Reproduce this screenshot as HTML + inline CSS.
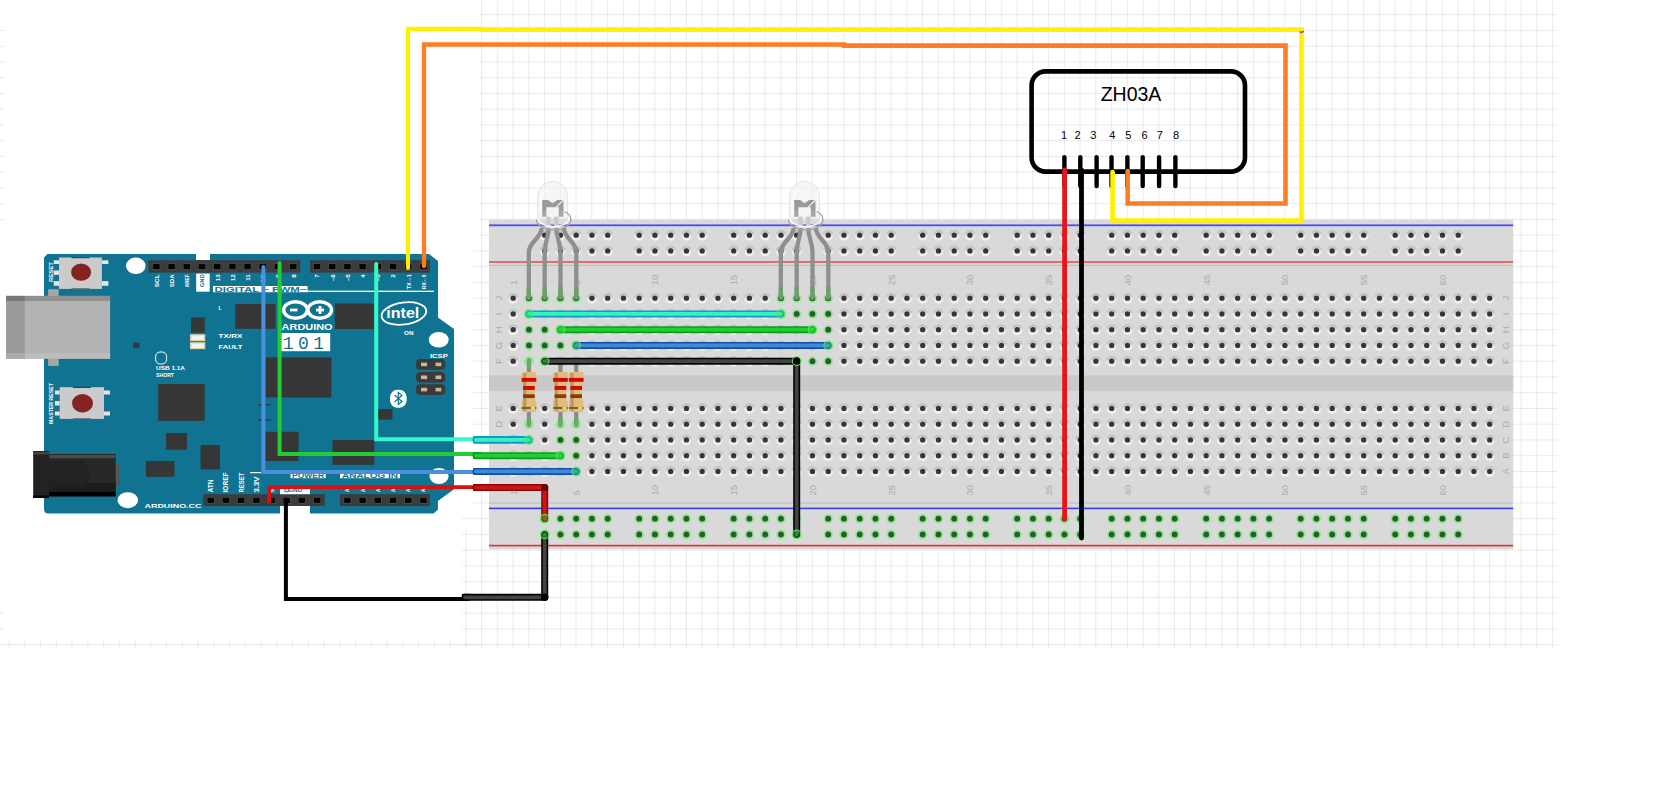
<!DOCTYPE html>
<html><head><meta charset="utf-8"><style>
html,body{margin:0;padding:0;background:#fff;width:1680px;height:804px;overflow:hidden;}
svg{display:block;}
</style></head><body>
<svg width="1680" height="804" viewBox="0 0 1680 804">

<defs>
 <linearGradient id="halo" x1="0" y1="0" x2="0" y2="1">
  <stop offset="0" stop-color="#d0d0d0"/><stop offset="0.35" stop-color="#d4d4d4"/><stop offset="0.55" stop-color="#e8e8e8"/><stop offset="1" stop-color="#f4f4f4"/>
 </linearGradient>
 <g id="hb"><circle r="5.2" fill="url(#halo)"/><path d="M-4.3 -1.2 A4.5 4.5 0 0 1 4.3 -1.2" fill="none" stroke="#c2c2c2" stroke-width="1.5"/><circle r="2.65" fill="#363636"/></g>
 <g id="hg"><circle r="4.7" fill="#8fe68f"/><circle r="2.9" fill="#285c28"/></g>
</defs>

<path d="M481.6 0V648M497.35 0V648M513.1 0V648M528.85 0V648M544.6 0V648M560.35 0V648M576.1 0V648M591.85 0V648M607.6 0V648M623.35 0V648M639.1 0V648M654.85 0V648M670.6 0V648M686.35 0V648M702.1 0V648M717.85 0V648M733.6 0V648M749.35 0V648M765.1 0V648M780.85 0V648M796.6 0V648M812.35 0V648M828.1 0V648M843.85 0V648M859.6 0V648M875.35 0V648M891.1 0V648M906.85 0V648M922.6 0V648M938.35 0V648M954.1 0V648M969.85 0V648M985.6 0V648M1001.35 0V648M1017.1 0V648M1032.85 0V648M1048.6 0V648M1064.35 0V648M1080.1 0V648M1095.85 0V648M1111.6 0V648M1127.35 0V648M1143.1 0V648M1158.85 0V648M1174.6 0V648M1190.35 0V648M1206.1 0V648M1221.85 0V648M1237.6 0V648M1253.35 0V648M1269.1 0V648M1284.85 0V648M1300.6 0V648M1316.35 0V648M1332.1 0V648M1347.85 0V648M1363.6 0V648M1379.35 0V648M1395.1 0V648M1410.85 0V648M1426.6 0V648M1442.35 0V648M1458.1 0V648M1473.85 0V648M1489.6 0V648M1505.35 0V648M1521.1 0V648M1536.85 0V648M1552.6 0V648M465.85 530V648M9.1 641V648M24.85 641V648M40.6 641V648M56.35 641V648M72.1 641V648M87.85 641V648M103.6 641V648M119.35 641V648M135.1 641V648M150.85 641V648M166.6 641V648M182.35 641V648M198.1 641V648M213.85 641V648M229.6 641V648M245.35 641V648M261.1 641V648M276.85 641V648M292.6 641V648M308.35 641V648M324.1 641V648M339.85 641V648M355.6 641V648M371.35 641V648M387.1 641V648M402.85 641V648M418.6 641V648M434.35 641V648M450.1 641V648" stroke="rgba(188,198,214,0.36)" stroke-width="1" fill="none"/>
<path d="M44 257.5 L47.5 254 H196 V260 H210 V254 H429 L438 261 V317.5 L454 329 V489.3 L437.9 501.1 V509.8 L433.5 513.6 H310 V506 H280 V513.6 H48.5 Q44 513.6 44 509 Z" fill="#107391"/>
<ellipse cx="135.8" cy="265.8" rx="9.8" ry="8.3" fill="#fff"/>
<ellipse cx="127.8" cy="500.2" rx="10.3" ry="8" fill="#fff"/>
<ellipse cx="438.7" cy="339.7" rx="10" ry="7.8" fill="#fff"/>
<ellipse cx="439" cy="476" rx="9.6" ry="8" fill="#fff"/>
<rect x="53.7" y="260.3" width="5.299999999999997" height="3.6999999999999886" fill="#e4e4e4"/>
<rect x="53.7" y="270.5" width="5.299999999999997" height="4.399999999999977" fill="#e4e4e4"/>
<rect x="53.7" y="281.1" width="5.299999999999997" height="4.699999999999989" fill="#e4e4e4"/>
<rect x="101.9" y="260.3" width="6.5" height="3.6999999999999886" fill="#e4e4e4"/>
<rect x="101.9" y="281.1" width="6.5" height="4.699999999999989" fill="#e4e4e4"/>
<rect x="59" y="257.5" width="42.900000000000006" height="31.399999999999977" fill="#cbcbcb"/>
<rect x="71.45" y="257.2" width="18" height="1" fill="#0b3f50"/>
<rect x="71.45" y="288.2" width="18" height="1" fill="#6a6a6a"/>
<ellipse cx="81.1" cy="272.2" rx="10" ry="8.6" fill="#852323"/>
<rect x="55" y="390.5" width="4.700000000000003" height="4.0" fill="#e4e4e4"/>
<rect x="55" y="401" width="4.700000000000003" height="4.5" fill="#e4e4e4"/>
<rect x="55" y="411.5" width="4.700000000000003" height="4.0" fill="#e4e4e4"/>
<rect x="104" y="390.5" width="6" height="4.0" fill="#e4e4e4"/>
<rect x="104" y="411.5" width="6" height="4.0" fill="#e4e4e4"/>
<rect x="59.7" y="387.2" width="44.3" height="31.69999999999999" fill="#cbcbcb"/>
<rect x="72.85" y="386.9" width="18" height="1" fill="#0b3f50"/>
<rect x="72.85" y="418.2" width="18" height="1" fill="#6a6a6a"/>
<ellipse cx="82.5" cy="403.2" rx="10.5" ry="9.2" fill="#852323"/>
<rect x="48.1" y="289.2" width="10.6" height="76.7" fill="#a6a6a6"/>
<rect x="6.1" y="295.9" width="104" height="62.8" fill="#b3b3b3"/>
<rect x="6.1" y="295.9" width="104" height="5" fill="#8f8f8f"/>
<rect x="6.1" y="353.2" width="104" height="5.5" fill="#bdbdbd"/>
<rect x="6.1" y="300.9" width="18.7" height="52.3" fill="#9a9a9a"/>
<rect x="6.1" y="295.9" width="18.7" height="5" fill="#787878"/>
<rect x="6.1" y="353.2" width="18.7" height="5.5" fill="#a9a9a9"/>
<rect x="115.7" y="464.4" width="4.3" height="20.4" fill="#555"/>
<rect x="49.1" y="454" width="66.6" height="42.4" fill="#272727"/>
<rect x="49.1" y="455" width="66.6" height="3.2" fill="#4a4a4a"/>
<rect x="49.1" y="483" width="66.6" height="8.8" fill="#1d1d1d"/>
<rect x="49.1" y="491.8" width="66.6" height="4.6" fill="#000"/>
<path d="M49.1 461 H83 Q96 474 83 487 H49.1 Z" fill="#222"/>
<rect x="33.2" y="451" width="15.9" height="47" fill="#222"/>
<rect x="33.2" y="452" width="15.9" height="2.5" fill="#444"/>
<rect x="33.2" y="495.5" width="15.9" height="2.5" fill="#000"/>
<rect x="235.2" y="304" width="40.4" height="24.8" fill="#363636"/>
<rect x="334.8" y="303.5" width="39.0" height="25.5" fill="#363636"/>
<rect x="191" y="317.4" width="13.8" height="15.2" fill="#363636"/>
<rect x="265.7" y="357.4" width="65.7" height="40.1" fill="#363636"/>
<rect x="158.3" y="384" width="46.4" height="36.8" fill="#363636"/>
<rect x="166" y="433" width="21" height="16.7" fill="#363636"/>
<rect x="200.6" y="445" width="19.3" height="24.4" fill="#363636"/>
<rect x="146" y="461" width="28.5" height="15.8" fill="#363636"/>
<rect x="264.8" y="431.8" width="33.7" height="29.2" fill="#363636"/>
<rect x="332.4" y="440" width="41.9" height="24.8" fill="#363636"/>
<rect x="378" y="409" width="14.4" height="10.6" fill="#363636"/>
<rect x="133.2" y="342.7" width="6.1" height="5.3" fill="#363636"/>
<rect x="258" y="404.3" width="13" height="1" fill="#2a2a2a"/><rect x="258" y="419.5" width="13" height="1" fill="#2a2a2a"/>
<rect x="190" y="334.2" width="15.3" height="7" fill="#d8d0a8"/>
<rect x="191.5" y="335.4" width="12.3" height="4.6" fill="#f2f2ee"/>
<rect x="190" y="342.2" width="15.3" height="7" fill="#d8d0a8"/>
<rect x="191.5" y="343.4" width="12.3" height="4.6" fill="#f2f2ee"/>
<rect x="148.4" y="260.2" width="151.9" height="12.4" fill="#3c3c3c"/>
<rect x="152.4" y="263.2" width="8" height="7" fill="#4a4a4a"/>
<rect x="153.2" y="264.1" width="6.4" height="5" fill="#000"/>
<rect x="167.6" y="263.2" width="8" height="7" fill="#4a4a4a"/>
<rect x="168.4" y="264.1" width="6.4" height="5" fill="#000"/>
<rect x="182.8" y="263.2" width="8" height="7" fill="#4a4a4a"/>
<rect x="183.6" y="264.1" width="6.4" height="5" fill="#000"/>
<rect x="198.0" y="263.2" width="8" height="7" fill="#4a4a4a"/>
<rect x="198.8" y="264.1" width="6.4" height="5" fill="#000"/>
<rect x="213.2" y="263.2" width="8" height="7" fill="#4a4a4a"/>
<rect x="214.0" y="264.1" width="6.4" height="5" fill="#000"/>
<rect x="228.4" y="263.2" width="8" height="7" fill="#4a4a4a"/>
<rect x="229.2" y="264.1" width="6.4" height="5" fill="#000"/>
<rect x="243.6" y="263.2" width="8" height="7" fill="#4a4a4a"/>
<rect x="244.4" y="264.1" width="6.4" height="5" fill="#000"/>
<rect x="258.8" y="263.2" width="8" height="7" fill="#4a4a4a"/>
<rect x="259.6" y="264.1" width="6.4" height="5" fill="#000"/>
<rect x="274.0" y="263.2" width="8" height="7" fill="#4a4a4a"/>
<rect x="274.8" y="264.1" width="6.4" height="5" fill="#000"/>
<rect x="289.2" y="263.2" width="8" height="7" fill="#4a4a4a"/>
<rect x="290.0" y="264.1" width="6.4" height="5" fill="#000"/>
<rect x="310" y="260.2" width="119.9" height="12.4" fill="#3c3c3c"/>
<rect x="313.0" y="263.2" width="8" height="7" fill="#4a4a4a"/>
<rect x="313.8" y="264.1" width="6.4" height="5" fill="#000"/>
<rect x="328.2" y="263.2" width="8" height="7" fill="#4a4a4a"/>
<rect x="329.0" y="264.1" width="6.4" height="5" fill="#000"/>
<rect x="343.4" y="263.2" width="8" height="7" fill="#4a4a4a"/>
<rect x="344.2" y="264.1" width="6.4" height="5" fill="#000"/>
<rect x="358.6" y="263.2" width="8" height="7" fill="#4a4a4a"/>
<rect x="359.4" y="264.1" width="6.4" height="5" fill="#000"/>
<rect x="373.8" y="263.2" width="8" height="7" fill="#4a4a4a"/>
<rect x="374.6" y="264.1" width="6.4" height="5" fill="#000"/>
<rect x="389.0" y="263.2" width="8" height="7" fill="#4a4a4a"/>
<rect x="389.8" y="264.1" width="6.4" height="5" fill="#000"/>
<rect x="404.2" y="263.2" width="8" height="7" fill="#4a4a4a"/>
<rect x="405.0" y="264.1" width="6.4" height="5" fill="#000"/>
<rect x="419.4" y="263.2" width="8" height="7" fill="#4a4a4a"/>
<rect x="420.2" y="264.1" width="6.4" height="5" fill="#000"/>
<rect x="203.2" y="494.2" width="121.5" height="11.8" fill="#3c3c3c"/>
<rect x="206.7" y="496.9" width="8" height="7" fill="#4a4a4a"/>
<rect x="207.5" y="497.8" width="6.4" height="5" fill="#000"/>
<rect x="221.9" y="496.9" width="8" height="7" fill="#4a4a4a"/>
<rect x="222.7" y="497.8" width="6.4" height="5" fill="#000"/>
<rect x="237.1" y="496.9" width="8" height="7" fill="#4a4a4a"/>
<rect x="237.9" y="497.8" width="6.4" height="5" fill="#000"/>
<rect x="252.3" y="496.9" width="8" height="7" fill="#4a4a4a"/>
<rect x="253.1" y="497.8" width="6.4" height="5" fill="#000"/>
<rect x="267.5" y="496.9" width="8" height="7" fill="#4a4a4a"/>
<rect x="268.3" y="497.8" width="6.4" height="5" fill="#000"/>
<rect x="282.7" y="496.9" width="8" height="7" fill="#4a4a4a"/>
<rect x="283.5" y="497.8" width="6.4" height="5" fill="#000"/>
<rect x="297.9" y="496.9" width="8" height="7" fill="#4a4a4a"/>
<rect x="298.7" y="497.8" width="6.4" height="5" fill="#000"/>
<rect x="313.1" y="496.9" width="8" height="7" fill="#4a4a4a"/>
<rect x="313.9" y="497.8" width="6.4" height="5" fill="#000"/>
<rect x="340" y="494.2" width="89.9" height="11.8" fill="#3c3c3c"/>
<rect x="343.4" y="496.9" width="8" height="7" fill="#4a4a4a"/>
<rect x="344.2" y="497.8" width="6.4" height="5" fill="#000"/>
<rect x="358.6" y="496.9" width="8" height="7" fill="#4a4a4a"/>
<rect x="359.4" y="497.8" width="6.4" height="5" fill="#000"/>
<rect x="373.8" y="496.9" width="8" height="7" fill="#4a4a4a"/>
<rect x="374.6" y="497.8" width="6.4" height="5" fill="#000"/>
<rect x="389.0" y="496.9" width="8" height="7" fill="#4a4a4a"/>
<rect x="389.8" y="497.8" width="6.4" height="5" fill="#000"/>
<rect x="404.2" y="496.9" width="8" height="7" fill="#4a4a4a"/>
<rect x="405.0" y="497.8" width="6.4" height="5" fill="#000"/>
<rect x="419.4" y="496.9" width="8" height="7" fill="#4a4a4a"/>
<rect x="420.2" y="497.8" width="6.4" height="5" fill="#000"/>
<rect x="416.1" y="359" width="29.1" height="10.7" rx="4" fill="#3a3a3a"/>
<rect x="421" y="362.6" width="6.1" height="3.6" fill="#c9b78e"/>
<rect x="435.5" y="362.6" width="5.8" height="3.6" fill="#c9b78e"/>
<rect x="416.1" y="371.9" width="29.1" height="10.7" rx="4" fill="#3a3a3a"/>
<rect x="421" y="375.5" width="6.1" height="3.6" fill="#c9b78e"/>
<rect x="435.5" y="375.5" width="5.8" height="3.6" fill="#c9b78e"/>
<rect x="416.1" y="384.2" width="29.1" height="10.7" rx="4" fill="#3a3a3a"/>
<rect x="421" y="387.8" width="6.1" height="3.6" fill="#c9b78e"/>
<rect x="435.5" y="387.8" width="5.8" height="3.6" fill="#c9b78e"/>
<rect x="196.2" y="273.6" width="13.5" height="18.1" fill="#fff"/>
<rect x="213" y="286" width="94.6" height="6.2" fill="#fff"/>
<rect x="307" y="290.6" width="127" height="1.4" fill="#e8f2f5"/>
<rect x="280" y="488.7" width="30" height="5.5" fill="#fff"/>
<rect x="290.5" y="473" width="35.2" height="5.2" fill="#fff"/>
<rect x="340" y="473" width="60" height="5.2" fill="#fff"/>
<rect x="250" y="472" width="11" height="1.2" fill="#fff"/>
<g fill="none" stroke="#fff" stroke-width="3.4"><ellipse cx="295.5" cy="310" rx="11.8" ry="8.3"/><ellipse cx="319.7" cy="310" rx="11.8" ry="8.3"/></g>
<rect x="290" y="308.6" width="7.5" height="2.8" fill="#fff"/>
<rect x="316" y="308.6" width="8" height="2.8" fill="#fff"/><rect x="318.6" y="306" width="2.8" height="8" fill="#fff"/>
<rect x="281.1" y="333" width="49.1" height="18.2" fill="#fff"/>
<text x="305.6" y="348.6" text-anchor="middle" font-family='"Liberation Mono", monospace' font-size="18" letter-spacing="4.5" fill="#107391">101</text>
<text x="281.6" y="330.2" font-family='"Liberation Sans", sans-serif' font-weight="bold" font-size="9.2" textLength="51" lengthAdjust="spacingAndGlyphs" fill="#fff">ARDUINO</text>
<ellipse cx="403.9" cy="313.5" rx="22.5" ry="11" transform="rotate(-8 403.9 313.5)" fill="none" stroke="#fff" stroke-width="1.8"/>
<text x="402.8" y="317.8" text-anchor="middle" font-family='"Liberation Sans", sans-serif' font-weight="bold" font-size="14.5" textLength="33" lengthAdjust="spacingAndGlyphs" fill="#fff">intel</text>
<rect x="390" y="389.8" width="16.7" height="17.9" rx="7.5" fill="#fff"/>
<path d="M394.5 395 L402 401.5 L398.3 404.5 V392.5 L402 395.5 L394.5 402" fill="none" stroke="#107391" stroke-width="1.2"/>
<g font-family='"Liberation Sans", sans-serif' font-weight="bold"><text transform="translate(158.70000000000002 274.3) rotate(-90)" font-size="6.2" fill="#fff" text-anchor="end" textLength="13" lengthAdjust="spacingAndGlyphs">SCL</text><text transform="translate(173.9 274.3) rotate(-90)" font-size="6.2" fill="#fff" text-anchor="end" textLength="13" lengthAdjust="spacingAndGlyphs">SDA</text><text transform="translate(189.10000000000002 274.3) rotate(-90)" font-size="6.2" fill="#fff" text-anchor="end" textLength="13" lengthAdjust="spacingAndGlyphs">AREF</text><text transform="translate(204.3 274.3) rotate(-90)" font-size="6.2" fill="#107391" text-anchor="end" textLength="13" lengthAdjust="spacingAndGlyphs">GND</text><text transform="translate(219.5 274.3) rotate(-90)" font-size="6.2" fill="#fff" text-anchor="end">13</text><text transform="translate(234.70000000000002 274.3) rotate(-90)" font-size="6.2" fill="#fff" text-anchor="end">12</text><text transform="translate(249.9 274.3) rotate(-90)" font-size="6.2" fill="#fff" text-anchor="end">11</text><text transform="translate(265.1 274.3) rotate(-90)" font-size="6.2" fill="#fff" text-anchor="end" textLength="13" lengthAdjust="spacingAndGlyphs">~10</text><text transform="translate(280.3 274.3) rotate(-90)" font-size="6.2" fill="#fff" text-anchor="end">~9</text><text transform="translate(295.5 274.3) rotate(-90)" font-size="6.2" fill="#fff" text-anchor="end">8</text><text transform="translate(319.3 274.3) rotate(-90)" font-size="6.2" fill="#fff" text-anchor="end">7</text><text transform="translate(334.5 274.3) rotate(-90)" font-size="6.2" fill="#fff" text-anchor="end">~6</text><text transform="translate(349.7 274.3) rotate(-90)" font-size="6.2" fill="#fff" text-anchor="end">~5</text><text transform="translate(364.90000000000003 274.3) rotate(-90)" font-size="6.2" fill="#fff" text-anchor="end">4</text><text transform="translate(380.1 274.3) rotate(-90)" font-size="6.2" fill="#fff" text-anchor="end">~3</text><text transform="translate(395.3 274.3) rotate(-90)" font-size="6.2" fill="#fff" text-anchor="end">2</text><text transform="translate(410.5 274.3) rotate(-90)" font-size="6.2" fill="#fff" text-anchor="end" textLength="15" lengthAdjust="spacingAndGlyphs">TX→1</text><text transform="translate(425.7 274.3) rotate(-90)" font-size="6.2" fill="#fff" text-anchor="end" textLength="15" lengthAdjust="spacingAndGlyphs">RX←0</text><text transform="translate(213.2 492.5) rotate(-90)" font-size="7.5" fill="#fff" text-anchor="start" textLength="13" lengthAdjust="spacingAndGlyphs">ATN</text><text transform="translate(228.39999999999998 492.5) rotate(-90)" font-size="7.5" fill="#fff" text-anchor="start" textLength="20" lengthAdjust="spacingAndGlyphs">IOREF</text><text transform="translate(243.6 492.5) rotate(-90)" font-size="7.5" fill="#fff" text-anchor="start" textLength="20" lengthAdjust="spacingAndGlyphs">RESET</text><text transform="translate(258.79999999999995 492.5) rotate(-90)" font-size="7.5" fill="#fff" text-anchor="start" textLength="16" lengthAdjust="spacingAndGlyphs">3.3V</text><text transform="translate(274.0 492.5) rotate(-90)" font-size="6" fill="#fff" text-anchor="start">5</text><text transform="translate(289.2 492.5) rotate(-90)" font-size="7.5" fill="#107391" text-anchor="start" textLength="13" lengthAdjust="spacingAndGlyphs">GND</text><text transform="translate(304.4 492.5) rotate(-90)" font-size="6" fill="#fff" text-anchor="start">V</text><text transform="translate(349.4 492) rotate(-90)" font-size="5" fill="#fff" text-anchor="start" textLength="6" lengthAdjust="spacingAndGlyphs">A0</text><text transform="translate(364.59999999999997 492) rotate(-90)" font-size="5" fill="#fff" text-anchor="start" textLength="6" lengthAdjust="spacingAndGlyphs">A1</text><text transform="translate(379.79999999999995 492) rotate(-90)" font-size="5" fill="#fff" text-anchor="start" textLength="6" lengthAdjust="spacingAndGlyphs">A2</text><text transform="translate(395.0 492) rotate(-90)" font-size="5" fill="#fff" text-anchor="start" textLength="6" lengthAdjust="spacingAndGlyphs">A3</text><text transform="translate(410.2 492) rotate(-90)" font-size="5" fill="#fff" text-anchor="start" textLength="6" lengthAdjust="spacingAndGlyphs">A4</text><text transform="translate(425.4 492) rotate(-90)" font-size="5" fill="#fff" text-anchor="start" textLength="6" lengthAdjust="spacingAndGlyphs">A5</text></g>
<g font-family='"Liberation Sans", sans-serif' font-weight="bold"><text x="214.5" y="291.6" font-size="7" fill="#107391" text-anchor="start" textLength="92" lengthAdjust="spacingAndGlyphs">DIGITAL ~ PWM~</text><text x="292" y="478" font-size="6.5" fill="#107391" text-anchor="start" textLength="32" lengthAdjust="spacingAndGlyphs">POWER</text><text x="342" y="478" font-size="6.5" fill="#107391" text-anchor="start" textLength="56" lengthAdjust="spacingAndGlyphs">ANALOG IN</text><text x="288" y="492.3" font-size="4.5" fill="#107391" text-anchor="start" textLength="14.5" lengthAdjust="spacingAndGlyphs">GND</text><text x="144.5" y="507.8" font-size="6" fill="#fff" text-anchor="start" textLength="57" lengthAdjust="spacingAndGlyphs">ARDUINO.CC</text><text x="404" y="335.2" font-size="5" fill="#fff" text-anchor="start" textLength="9.5" lengthAdjust="spacingAndGlyphs">ON</text><text x="430" y="357.5" font-size="6" fill="#fff" text-anchor="start" textLength="17.8" lengthAdjust="spacingAndGlyphs">ICSP</text><text x="218.5" y="338" font-size="5.5" fill="#fff" text-anchor="start" textLength="24" lengthAdjust="spacingAndGlyphs">TX/RX</text><text x="218.5" y="348.5" font-size="5.5" fill="#fff" text-anchor="start" textLength="24" lengthAdjust="spacingAndGlyphs">FAULT</text><text x="218.5" y="310" font-size="5" fill="#fff" text-anchor="start">L</text><text x="156" y="370" font-size="5" fill="#fff" text-anchor="start" textLength="29" lengthAdjust="spacingAndGlyphs">USB 1.1A</text><text x="156" y="376.5" font-size="5" fill="#fff" text-anchor="start" textLength="18" lengthAdjust="spacingAndGlyphs">SHORT</text></g>
<rect x="155.6" y="352" width="11" height="12" rx="4.5" fill="none" stroke="#fff" stroke-width="1"/>
<g font-family='"Liberation Sans", sans-serif' font-weight="bold" fill="#fff"><text transform="translate(52.5 282) rotate(-90)" font-size="5.5" textLength="20" lengthAdjust="spacingAndGlyphs">RESET</text><text transform="translate(52.5 424) rotate(-90)" font-size="5.5" textLength="41" lengthAdjust="spacingAndGlyphs">MASTER RESET</text></g>
<path d="M480 14.7H1558M480 30.45H1558M480 46.2H1558M480 61.95H1558M480 77.7H1558M480 93.45H1558M480 109.2H1558M480 124.95H1558M480 140.7H1558M480 156.45H1558M480 172.2H1558M480 187.95H1558M480 203.7H1558M480 219.45H1558M480 235.2H1558M473 250.95H1558M473 266.7H1558M473 282.45H1558M473 298.2H1558M473 313.95H1558M473 329.7H1558M473 345.45H1558M473 361.2H1558M473 376.95H1558M473 392.7H1558M473 408.45H1558M473 424.2H1558M473 439.95H1558M473 455.7H1558M473 471.45H1558M473 487.2H1558M473 502.95H1558M462 518.7H1558M462 534.45H1558M462 550.2H1558M462 565.95H1558M462 581.7H1558M462 597.45H1558M462 613.2H1558M462 628.95H1558M462 644.7H1558M0 644.7H480M0 30.45H4M0 46.2H4M0 61.95H4M0 77.7H4M0 93.45H4M0 109.2H4M0 124.95H4M0 140.7H4M0 156.45H4M0 172.2H4M0 187.95H4M0 203.7H4M0 219.45H4M0 613.2H4M0 628.95H4" stroke="rgba(188,198,214,0.36)" stroke-width="1" fill="none"/>
<rect x="489" y="219.5" width="1024.2" height="330" fill="#d9d9d9"/>
<rect x="489" y="224.4" width="1024.2" height="1.8" fill="#4d4df0"/>
<rect x="489" y="261" width="1024.2" height="2" fill="#e86a6a"/>
<rect x="489" y="264.9" width="1024.2" height="1.1" fill="#bdbdbd"/>
<rect x="489" y="375.3" width="1024.2" height="15.6" fill="#cbc9c7"/>
<rect x="489" y="502.4" width="1024.2" height="1.1" fill="#bdbdbd"/>
<rect x="489" y="507.6" width="1024.2" height="1.6" fill="#3c3cee"/>
<rect x="489" y="544.8" width="1024.2" height="1.6" fill="#ee2a2a"/>
<use href="#hb" x="544.7" y="235.2"/>
<use href="#hb" x="544.7" y="250.95"/>
<use href="#hg" x="544.7" y="518.7"/>
<use href="#hg" x="544.7" y="534.45"/>
<use href="#hb" x="560.45" y="235.2"/>
<use href="#hb" x="560.45" y="250.95"/>
<use href="#hg" x="560.45" y="518.7"/>
<use href="#hg" x="560.45" y="534.45"/>
<use href="#hb" x="576.2" y="235.2"/>
<use href="#hb" x="576.2" y="250.95"/>
<use href="#hg" x="576.2" y="518.7"/>
<use href="#hg" x="576.2" y="534.45"/>
<use href="#hb" x="591.95" y="235.2"/>
<use href="#hb" x="591.95" y="250.95"/>
<use href="#hg" x="591.95" y="518.7"/>
<use href="#hg" x="591.95" y="534.45"/>
<use href="#hb" x="607.7" y="235.2"/>
<use href="#hb" x="607.7" y="250.95"/>
<use href="#hg" x="607.7" y="518.7"/>
<use href="#hg" x="607.7" y="534.45"/>
<use href="#hb" x="639.2" y="235.2"/>
<use href="#hb" x="639.2" y="250.95"/>
<use href="#hg" x="639.2" y="518.7"/>
<use href="#hg" x="639.2" y="534.45"/>
<use href="#hb" x="654.95" y="235.2"/>
<use href="#hb" x="654.95" y="250.95"/>
<use href="#hg" x="654.95" y="518.7"/>
<use href="#hg" x="654.95" y="534.45"/>
<use href="#hb" x="670.7" y="235.2"/>
<use href="#hb" x="670.7" y="250.95"/>
<use href="#hg" x="670.7" y="518.7"/>
<use href="#hg" x="670.7" y="534.45"/>
<use href="#hb" x="686.45" y="235.2"/>
<use href="#hb" x="686.45" y="250.95"/>
<use href="#hg" x="686.45" y="518.7"/>
<use href="#hg" x="686.45" y="534.45"/>
<use href="#hb" x="702.2" y="235.2"/>
<use href="#hb" x="702.2" y="250.95"/>
<use href="#hg" x="702.2" y="518.7"/>
<use href="#hg" x="702.2" y="534.45"/>
<use href="#hb" x="733.7" y="235.2"/>
<use href="#hb" x="733.7" y="250.95"/>
<use href="#hg" x="733.7" y="518.7"/>
<use href="#hg" x="733.7" y="534.45"/>
<use href="#hb" x="749.45" y="235.2"/>
<use href="#hb" x="749.45" y="250.95"/>
<use href="#hg" x="749.45" y="518.7"/>
<use href="#hg" x="749.45" y="534.45"/>
<use href="#hb" x="765.2" y="235.2"/>
<use href="#hb" x="765.2" y="250.95"/>
<use href="#hg" x="765.2" y="518.7"/>
<use href="#hg" x="765.2" y="534.45"/>
<use href="#hb" x="780.95" y="235.2"/>
<use href="#hb" x="780.95" y="250.95"/>
<use href="#hg" x="780.95" y="518.7"/>
<use href="#hg" x="780.95" y="534.45"/>
<use href="#hb" x="796.7" y="235.2"/>
<use href="#hb" x="796.7" y="250.95"/>
<use href="#hg" x="796.7" y="518.7"/>
<use href="#hg" x="796.7" y="534.45"/>
<use href="#hb" x="828.2" y="235.2"/>
<use href="#hb" x="828.2" y="250.95"/>
<use href="#hg" x="828.2" y="518.7"/>
<use href="#hg" x="828.2" y="534.45"/>
<use href="#hb" x="843.95" y="235.2"/>
<use href="#hb" x="843.95" y="250.95"/>
<use href="#hg" x="843.95" y="518.7"/>
<use href="#hg" x="843.95" y="534.45"/>
<use href="#hb" x="859.7" y="235.2"/>
<use href="#hb" x="859.7" y="250.95"/>
<use href="#hg" x="859.7" y="518.7"/>
<use href="#hg" x="859.7" y="534.45"/>
<use href="#hb" x="875.45" y="235.2"/>
<use href="#hb" x="875.45" y="250.95"/>
<use href="#hg" x="875.45" y="518.7"/>
<use href="#hg" x="875.45" y="534.45"/>
<use href="#hb" x="891.2" y="235.2"/>
<use href="#hb" x="891.2" y="250.95"/>
<use href="#hg" x="891.2" y="518.7"/>
<use href="#hg" x="891.2" y="534.45"/>
<use href="#hb" x="922.7" y="235.2"/>
<use href="#hb" x="922.7" y="250.95"/>
<use href="#hg" x="922.7" y="518.7"/>
<use href="#hg" x="922.7" y="534.45"/>
<use href="#hb" x="938.45" y="235.2"/>
<use href="#hb" x="938.45" y="250.95"/>
<use href="#hg" x="938.45" y="518.7"/>
<use href="#hg" x="938.45" y="534.45"/>
<use href="#hb" x="954.2" y="235.2"/>
<use href="#hb" x="954.2" y="250.95"/>
<use href="#hg" x="954.2" y="518.7"/>
<use href="#hg" x="954.2" y="534.45"/>
<use href="#hb" x="969.95" y="235.2"/>
<use href="#hb" x="969.95" y="250.95"/>
<use href="#hg" x="969.95" y="518.7"/>
<use href="#hg" x="969.95" y="534.45"/>
<use href="#hb" x="985.7" y="235.2"/>
<use href="#hb" x="985.7" y="250.95"/>
<use href="#hg" x="985.7" y="518.7"/>
<use href="#hg" x="985.7" y="534.45"/>
<use href="#hb" x="1017.2" y="235.2"/>
<use href="#hb" x="1017.2" y="250.95"/>
<use href="#hg" x="1017.2" y="518.7"/>
<use href="#hg" x="1017.2" y="534.45"/>
<use href="#hb" x="1032.95" y="235.2"/>
<use href="#hb" x="1032.95" y="250.95"/>
<use href="#hg" x="1032.95" y="518.7"/>
<use href="#hg" x="1032.95" y="534.45"/>
<use href="#hb" x="1048.7" y="235.2"/>
<use href="#hb" x="1048.7" y="250.95"/>
<use href="#hg" x="1048.7" y="518.7"/>
<use href="#hg" x="1048.7" y="534.45"/>
<use href="#hb" x="1064.45" y="235.2"/>
<use href="#hb" x="1064.45" y="250.95"/>
<use href="#hg" x="1064.45" y="518.7"/>
<use href="#hg" x="1064.45" y="534.45"/>
<use href="#hb" x="1080.2" y="235.2"/>
<use href="#hb" x="1080.2" y="250.95"/>
<use href="#hg" x="1080.2" y="518.7"/>
<use href="#hg" x="1080.2" y="534.45"/>
<use href="#hb" x="1111.7" y="235.2"/>
<use href="#hb" x="1111.7" y="250.95"/>
<use href="#hg" x="1111.7" y="518.7"/>
<use href="#hg" x="1111.7" y="534.45"/>
<use href="#hb" x="1127.45" y="235.2"/>
<use href="#hb" x="1127.45" y="250.95"/>
<use href="#hg" x="1127.45" y="518.7"/>
<use href="#hg" x="1127.45" y="534.45"/>
<use href="#hb" x="1143.2" y="235.2"/>
<use href="#hb" x="1143.2" y="250.95"/>
<use href="#hg" x="1143.2" y="518.7"/>
<use href="#hg" x="1143.2" y="534.45"/>
<use href="#hb" x="1158.95" y="235.2"/>
<use href="#hb" x="1158.95" y="250.95"/>
<use href="#hg" x="1158.95" y="518.7"/>
<use href="#hg" x="1158.95" y="534.45"/>
<use href="#hb" x="1174.7" y="235.2"/>
<use href="#hb" x="1174.7" y="250.95"/>
<use href="#hg" x="1174.7" y="518.7"/>
<use href="#hg" x="1174.7" y="534.45"/>
<use href="#hb" x="1206.2" y="235.2"/>
<use href="#hb" x="1206.2" y="250.95"/>
<use href="#hg" x="1206.2" y="518.7"/>
<use href="#hg" x="1206.2" y="534.45"/>
<use href="#hb" x="1221.95" y="235.2"/>
<use href="#hb" x="1221.95" y="250.95"/>
<use href="#hg" x="1221.95" y="518.7"/>
<use href="#hg" x="1221.95" y="534.45"/>
<use href="#hb" x="1237.7" y="235.2"/>
<use href="#hb" x="1237.7" y="250.95"/>
<use href="#hg" x="1237.7" y="518.7"/>
<use href="#hg" x="1237.7" y="534.45"/>
<use href="#hb" x="1253.45" y="235.2"/>
<use href="#hb" x="1253.45" y="250.95"/>
<use href="#hg" x="1253.45" y="518.7"/>
<use href="#hg" x="1253.45" y="534.45"/>
<use href="#hb" x="1269.2" y="235.2"/>
<use href="#hb" x="1269.2" y="250.95"/>
<use href="#hg" x="1269.2" y="518.7"/>
<use href="#hg" x="1269.2" y="534.45"/>
<use href="#hb" x="1300.7" y="235.2"/>
<use href="#hb" x="1300.7" y="250.95"/>
<use href="#hg" x="1300.7" y="518.7"/>
<use href="#hg" x="1300.7" y="534.45"/>
<use href="#hb" x="1316.45" y="235.2"/>
<use href="#hb" x="1316.45" y="250.95"/>
<use href="#hg" x="1316.45" y="518.7"/>
<use href="#hg" x="1316.45" y="534.45"/>
<use href="#hb" x="1332.2" y="235.2"/>
<use href="#hb" x="1332.2" y="250.95"/>
<use href="#hg" x="1332.2" y="518.7"/>
<use href="#hg" x="1332.2" y="534.45"/>
<use href="#hb" x="1347.95" y="235.2"/>
<use href="#hb" x="1347.95" y="250.95"/>
<use href="#hg" x="1347.95" y="518.7"/>
<use href="#hg" x="1347.95" y="534.45"/>
<use href="#hb" x="1363.7" y="235.2"/>
<use href="#hb" x="1363.7" y="250.95"/>
<use href="#hg" x="1363.7" y="518.7"/>
<use href="#hg" x="1363.7" y="534.45"/>
<use href="#hb" x="1395.2" y="235.2"/>
<use href="#hb" x="1395.2" y="250.95"/>
<use href="#hg" x="1395.2" y="518.7"/>
<use href="#hg" x="1395.2" y="534.45"/>
<use href="#hb" x="1410.95" y="235.2"/>
<use href="#hb" x="1410.95" y="250.95"/>
<use href="#hg" x="1410.95" y="518.7"/>
<use href="#hg" x="1410.95" y="534.45"/>
<use href="#hb" x="1426.7" y="235.2"/>
<use href="#hb" x="1426.7" y="250.95"/>
<use href="#hg" x="1426.7" y="518.7"/>
<use href="#hg" x="1426.7" y="534.45"/>
<use href="#hb" x="1442.45" y="235.2"/>
<use href="#hb" x="1442.45" y="250.95"/>
<use href="#hg" x="1442.45" y="518.7"/>
<use href="#hg" x="1442.45" y="534.45"/>
<use href="#hb" x="1458.2" y="235.2"/>
<use href="#hb" x="1458.2" y="250.95"/>
<use href="#hg" x="1458.2" y="518.7"/>
<use href="#hg" x="1458.2" y="534.45"/>
<use href="#hb" x="513.2" y="298.2"/>
<use href="#hb" x="513.2" y="313.95"/>
<use href="#hb" x="513.2" y="329.7"/>
<use href="#hb" x="513.2" y="345.45"/>
<use href="#hb" x="513.2" y="361.2"/>
<use href="#hb" x="513.2" y="408.45"/>
<use href="#hb" x="513.2" y="424.2"/>
<use href="#hb" x="513.2" y="439.95"/>
<use href="#hb" x="513.2" y="455.7"/>
<use href="#hb" x="513.2" y="471.45"/>
<use href="#hg" x="528.95" y="298.2"/>
<use href="#hg" x="528.95" y="313.95"/>
<use href="#hg" x="528.95" y="329.7"/>
<use href="#hg" x="528.95" y="345.45"/>
<use href="#hg" x="528.95" y="361.2"/>
<use href="#hg" x="528.95" y="408.45"/>
<use href="#hg" x="528.95" y="424.2"/>
<use href="#hg" x="528.95" y="439.95"/>
<use href="#hg" x="528.95" y="455.7"/>
<use href="#hg" x="528.95" y="471.45"/>
<use href="#hg" x="544.7" y="298.2"/>
<use href="#hg" x="544.7" y="313.95"/>
<use href="#hg" x="544.7" y="329.7"/>
<use href="#hg" x="544.7" y="345.45"/>
<use href="#hg" x="544.7" y="361.2"/>
<use href="#hb" x="544.7" y="408.45"/>
<use href="#hb" x="544.7" y="424.2"/>
<use href="#hb" x="544.7" y="439.95"/>
<use href="#hb" x="544.7" y="455.7"/>
<use href="#hb" x="544.7" y="471.45"/>
<use href="#hg" x="560.45" y="298.2"/>
<use href="#hg" x="560.45" y="313.95"/>
<use href="#hg" x="560.45" y="329.7"/>
<use href="#hg" x="560.45" y="345.45"/>
<use href="#hg" x="560.45" y="361.2"/>
<use href="#hg" x="560.45" y="408.45"/>
<use href="#hg" x="560.45" y="424.2"/>
<use href="#hg" x="560.45" y="439.95"/>
<use href="#hg" x="560.45" y="455.7"/>
<use href="#hg" x="560.45" y="471.45"/>
<use href="#hg" x="576.2" y="298.2"/>
<use href="#hg" x="576.2" y="313.95"/>
<use href="#hg" x="576.2" y="329.7"/>
<use href="#hg" x="576.2" y="345.45"/>
<use href="#hg" x="576.2" y="361.2"/>
<use href="#hg" x="576.2" y="408.45"/>
<use href="#hg" x="576.2" y="424.2"/>
<use href="#hg" x="576.2" y="439.95"/>
<use href="#hg" x="576.2" y="455.7"/>
<use href="#hg" x="576.2" y="471.45"/>
<use href="#hb" x="591.95" y="298.2"/>
<use href="#hb" x="591.95" y="313.95"/>
<use href="#hb" x="591.95" y="329.7"/>
<use href="#hb" x="591.95" y="345.45"/>
<use href="#hb" x="591.95" y="361.2"/>
<use href="#hb" x="591.95" y="408.45"/>
<use href="#hb" x="591.95" y="424.2"/>
<use href="#hb" x="591.95" y="439.95"/>
<use href="#hb" x="591.95" y="455.7"/>
<use href="#hb" x="591.95" y="471.45"/>
<use href="#hb" x="607.7" y="298.2"/>
<use href="#hb" x="607.7" y="313.95"/>
<use href="#hb" x="607.7" y="329.7"/>
<use href="#hb" x="607.7" y="345.45"/>
<use href="#hb" x="607.7" y="361.2"/>
<use href="#hb" x="607.7" y="408.45"/>
<use href="#hb" x="607.7" y="424.2"/>
<use href="#hb" x="607.7" y="439.95"/>
<use href="#hb" x="607.7" y="455.7"/>
<use href="#hb" x="607.7" y="471.45"/>
<use href="#hb" x="623.45" y="298.2"/>
<use href="#hb" x="623.45" y="313.95"/>
<use href="#hb" x="623.45" y="329.7"/>
<use href="#hb" x="623.45" y="345.45"/>
<use href="#hb" x="623.45" y="361.2"/>
<use href="#hb" x="623.45" y="408.45"/>
<use href="#hb" x="623.45" y="424.2"/>
<use href="#hb" x="623.45" y="439.95"/>
<use href="#hb" x="623.45" y="455.7"/>
<use href="#hb" x="623.45" y="471.45"/>
<use href="#hb" x="639.2" y="298.2"/>
<use href="#hb" x="639.2" y="313.95"/>
<use href="#hb" x="639.2" y="329.7"/>
<use href="#hb" x="639.2" y="345.45"/>
<use href="#hb" x="639.2" y="361.2"/>
<use href="#hb" x="639.2" y="408.45"/>
<use href="#hb" x="639.2" y="424.2"/>
<use href="#hb" x="639.2" y="439.95"/>
<use href="#hb" x="639.2" y="455.7"/>
<use href="#hb" x="639.2" y="471.45"/>
<use href="#hb" x="654.95" y="298.2"/>
<use href="#hb" x="654.95" y="313.95"/>
<use href="#hb" x="654.95" y="329.7"/>
<use href="#hb" x="654.95" y="345.45"/>
<use href="#hb" x="654.95" y="361.2"/>
<use href="#hb" x="654.95" y="408.45"/>
<use href="#hb" x="654.95" y="424.2"/>
<use href="#hb" x="654.95" y="439.95"/>
<use href="#hb" x="654.95" y="455.7"/>
<use href="#hb" x="654.95" y="471.45"/>
<use href="#hb" x="670.7" y="298.2"/>
<use href="#hb" x="670.7" y="313.95"/>
<use href="#hb" x="670.7" y="329.7"/>
<use href="#hb" x="670.7" y="345.45"/>
<use href="#hb" x="670.7" y="361.2"/>
<use href="#hb" x="670.7" y="408.45"/>
<use href="#hb" x="670.7" y="424.2"/>
<use href="#hb" x="670.7" y="439.95"/>
<use href="#hb" x="670.7" y="455.7"/>
<use href="#hb" x="670.7" y="471.45"/>
<use href="#hb" x="686.45" y="298.2"/>
<use href="#hb" x="686.45" y="313.95"/>
<use href="#hb" x="686.45" y="329.7"/>
<use href="#hb" x="686.45" y="345.45"/>
<use href="#hb" x="686.45" y="361.2"/>
<use href="#hb" x="686.45" y="408.45"/>
<use href="#hb" x="686.45" y="424.2"/>
<use href="#hb" x="686.45" y="439.95"/>
<use href="#hb" x="686.45" y="455.7"/>
<use href="#hb" x="686.45" y="471.45"/>
<use href="#hb" x="702.2" y="298.2"/>
<use href="#hb" x="702.2" y="313.95"/>
<use href="#hb" x="702.2" y="329.7"/>
<use href="#hb" x="702.2" y="345.45"/>
<use href="#hb" x="702.2" y="361.2"/>
<use href="#hb" x="702.2" y="408.45"/>
<use href="#hb" x="702.2" y="424.2"/>
<use href="#hb" x="702.2" y="439.95"/>
<use href="#hb" x="702.2" y="455.7"/>
<use href="#hb" x="702.2" y="471.45"/>
<use href="#hb" x="717.95" y="298.2"/>
<use href="#hb" x="717.95" y="313.95"/>
<use href="#hb" x="717.95" y="329.7"/>
<use href="#hb" x="717.95" y="345.45"/>
<use href="#hb" x="717.95" y="361.2"/>
<use href="#hb" x="717.95" y="408.45"/>
<use href="#hb" x="717.95" y="424.2"/>
<use href="#hb" x="717.95" y="439.95"/>
<use href="#hb" x="717.95" y="455.7"/>
<use href="#hb" x="717.95" y="471.45"/>
<use href="#hb" x="733.7" y="298.2"/>
<use href="#hb" x="733.7" y="313.95"/>
<use href="#hb" x="733.7" y="329.7"/>
<use href="#hb" x="733.7" y="345.45"/>
<use href="#hb" x="733.7" y="361.2"/>
<use href="#hb" x="733.7" y="408.45"/>
<use href="#hb" x="733.7" y="424.2"/>
<use href="#hb" x="733.7" y="439.95"/>
<use href="#hb" x="733.7" y="455.7"/>
<use href="#hb" x="733.7" y="471.45"/>
<use href="#hb" x="749.45" y="298.2"/>
<use href="#hb" x="749.45" y="313.95"/>
<use href="#hb" x="749.45" y="329.7"/>
<use href="#hb" x="749.45" y="345.45"/>
<use href="#hb" x="749.45" y="361.2"/>
<use href="#hb" x="749.45" y="408.45"/>
<use href="#hb" x="749.45" y="424.2"/>
<use href="#hb" x="749.45" y="439.95"/>
<use href="#hb" x="749.45" y="455.7"/>
<use href="#hb" x="749.45" y="471.45"/>
<use href="#hb" x="765.2" y="298.2"/>
<use href="#hb" x="765.2" y="313.95"/>
<use href="#hb" x="765.2" y="329.7"/>
<use href="#hb" x="765.2" y="345.45"/>
<use href="#hb" x="765.2" y="361.2"/>
<use href="#hb" x="765.2" y="408.45"/>
<use href="#hb" x="765.2" y="424.2"/>
<use href="#hb" x="765.2" y="439.95"/>
<use href="#hb" x="765.2" y="455.7"/>
<use href="#hb" x="765.2" y="471.45"/>
<use href="#hg" x="780.95" y="298.2"/>
<use href="#hg" x="780.95" y="313.95"/>
<use href="#hg" x="780.95" y="329.7"/>
<use href="#hg" x="780.95" y="345.45"/>
<use href="#hg" x="780.95" y="361.2"/>
<use href="#hb" x="780.95" y="408.45"/>
<use href="#hb" x="780.95" y="424.2"/>
<use href="#hb" x="780.95" y="439.95"/>
<use href="#hb" x="780.95" y="455.7"/>
<use href="#hb" x="780.95" y="471.45"/>
<use href="#hg" x="796.7" y="298.2"/>
<use href="#hg" x="796.7" y="313.95"/>
<use href="#hg" x="796.7" y="329.7"/>
<use href="#hg" x="796.7" y="345.45"/>
<use href="#hg" x="796.7" y="361.2"/>
<use href="#hb" x="796.7" y="408.45"/>
<use href="#hb" x="796.7" y="424.2"/>
<use href="#hb" x="796.7" y="439.95"/>
<use href="#hb" x="796.7" y="455.7"/>
<use href="#hb" x="796.7" y="471.45"/>
<use href="#hg" x="812.45" y="298.2"/>
<use href="#hg" x="812.45" y="313.95"/>
<use href="#hg" x="812.45" y="329.7"/>
<use href="#hg" x="812.45" y="345.45"/>
<use href="#hg" x="812.45" y="361.2"/>
<use href="#hb" x="812.45" y="408.45"/>
<use href="#hb" x="812.45" y="424.2"/>
<use href="#hb" x="812.45" y="439.95"/>
<use href="#hb" x="812.45" y="455.7"/>
<use href="#hb" x="812.45" y="471.45"/>
<use href="#hg" x="828.2" y="298.2"/>
<use href="#hg" x="828.2" y="313.95"/>
<use href="#hg" x="828.2" y="329.7"/>
<use href="#hg" x="828.2" y="345.45"/>
<use href="#hg" x="828.2" y="361.2"/>
<use href="#hb" x="828.2" y="408.45"/>
<use href="#hb" x="828.2" y="424.2"/>
<use href="#hb" x="828.2" y="439.95"/>
<use href="#hb" x="828.2" y="455.7"/>
<use href="#hb" x="828.2" y="471.45"/>
<use href="#hb" x="843.95" y="298.2"/>
<use href="#hb" x="843.95" y="313.95"/>
<use href="#hb" x="843.95" y="329.7"/>
<use href="#hb" x="843.95" y="345.45"/>
<use href="#hb" x="843.95" y="361.2"/>
<use href="#hb" x="843.95" y="408.45"/>
<use href="#hb" x="843.95" y="424.2"/>
<use href="#hb" x="843.95" y="439.95"/>
<use href="#hb" x="843.95" y="455.7"/>
<use href="#hb" x="843.95" y="471.45"/>
<use href="#hb" x="859.7" y="298.2"/>
<use href="#hb" x="859.7" y="313.95"/>
<use href="#hb" x="859.7" y="329.7"/>
<use href="#hb" x="859.7" y="345.45"/>
<use href="#hb" x="859.7" y="361.2"/>
<use href="#hb" x="859.7" y="408.45"/>
<use href="#hb" x="859.7" y="424.2"/>
<use href="#hb" x="859.7" y="439.95"/>
<use href="#hb" x="859.7" y="455.7"/>
<use href="#hb" x="859.7" y="471.45"/>
<use href="#hb" x="875.45" y="298.2"/>
<use href="#hb" x="875.45" y="313.95"/>
<use href="#hb" x="875.45" y="329.7"/>
<use href="#hb" x="875.45" y="345.45"/>
<use href="#hb" x="875.45" y="361.2"/>
<use href="#hb" x="875.45" y="408.45"/>
<use href="#hb" x="875.45" y="424.2"/>
<use href="#hb" x="875.45" y="439.95"/>
<use href="#hb" x="875.45" y="455.7"/>
<use href="#hb" x="875.45" y="471.45"/>
<use href="#hb" x="891.2" y="298.2"/>
<use href="#hb" x="891.2" y="313.95"/>
<use href="#hb" x="891.2" y="329.7"/>
<use href="#hb" x="891.2" y="345.45"/>
<use href="#hb" x="891.2" y="361.2"/>
<use href="#hb" x="891.2" y="408.45"/>
<use href="#hb" x="891.2" y="424.2"/>
<use href="#hb" x="891.2" y="439.95"/>
<use href="#hb" x="891.2" y="455.7"/>
<use href="#hb" x="891.2" y="471.45"/>
<use href="#hb" x="906.95" y="298.2"/>
<use href="#hb" x="906.95" y="313.95"/>
<use href="#hb" x="906.95" y="329.7"/>
<use href="#hb" x="906.95" y="345.45"/>
<use href="#hb" x="906.95" y="361.2"/>
<use href="#hb" x="906.95" y="408.45"/>
<use href="#hb" x="906.95" y="424.2"/>
<use href="#hb" x="906.95" y="439.95"/>
<use href="#hb" x="906.95" y="455.7"/>
<use href="#hb" x="906.95" y="471.45"/>
<use href="#hb" x="922.7" y="298.2"/>
<use href="#hb" x="922.7" y="313.95"/>
<use href="#hb" x="922.7" y="329.7"/>
<use href="#hb" x="922.7" y="345.45"/>
<use href="#hb" x="922.7" y="361.2"/>
<use href="#hb" x="922.7" y="408.45"/>
<use href="#hb" x="922.7" y="424.2"/>
<use href="#hb" x="922.7" y="439.95"/>
<use href="#hb" x="922.7" y="455.7"/>
<use href="#hb" x="922.7" y="471.45"/>
<use href="#hb" x="938.45" y="298.2"/>
<use href="#hb" x="938.45" y="313.95"/>
<use href="#hb" x="938.45" y="329.7"/>
<use href="#hb" x="938.45" y="345.45"/>
<use href="#hb" x="938.45" y="361.2"/>
<use href="#hb" x="938.45" y="408.45"/>
<use href="#hb" x="938.45" y="424.2"/>
<use href="#hb" x="938.45" y="439.95"/>
<use href="#hb" x="938.45" y="455.7"/>
<use href="#hb" x="938.45" y="471.45"/>
<use href="#hb" x="954.2" y="298.2"/>
<use href="#hb" x="954.2" y="313.95"/>
<use href="#hb" x="954.2" y="329.7"/>
<use href="#hb" x="954.2" y="345.45"/>
<use href="#hb" x="954.2" y="361.2"/>
<use href="#hb" x="954.2" y="408.45"/>
<use href="#hb" x="954.2" y="424.2"/>
<use href="#hb" x="954.2" y="439.95"/>
<use href="#hb" x="954.2" y="455.7"/>
<use href="#hb" x="954.2" y="471.45"/>
<use href="#hb" x="969.95" y="298.2"/>
<use href="#hb" x="969.95" y="313.95"/>
<use href="#hb" x="969.95" y="329.7"/>
<use href="#hb" x="969.95" y="345.45"/>
<use href="#hb" x="969.95" y="361.2"/>
<use href="#hb" x="969.95" y="408.45"/>
<use href="#hb" x="969.95" y="424.2"/>
<use href="#hb" x="969.95" y="439.95"/>
<use href="#hb" x="969.95" y="455.7"/>
<use href="#hb" x="969.95" y="471.45"/>
<use href="#hb" x="985.7" y="298.2"/>
<use href="#hb" x="985.7" y="313.95"/>
<use href="#hb" x="985.7" y="329.7"/>
<use href="#hb" x="985.7" y="345.45"/>
<use href="#hb" x="985.7" y="361.2"/>
<use href="#hb" x="985.7" y="408.45"/>
<use href="#hb" x="985.7" y="424.2"/>
<use href="#hb" x="985.7" y="439.95"/>
<use href="#hb" x="985.7" y="455.7"/>
<use href="#hb" x="985.7" y="471.45"/>
<use href="#hb" x="1001.45" y="298.2"/>
<use href="#hb" x="1001.45" y="313.95"/>
<use href="#hb" x="1001.45" y="329.7"/>
<use href="#hb" x="1001.45" y="345.45"/>
<use href="#hb" x="1001.45" y="361.2"/>
<use href="#hb" x="1001.45" y="408.45"/>
<use href="#hb" x="1001.45" y="424.2"/>
<use href="#hb" x="1001.45" y="439.95"/>
<use href="#hb" x="1001.45" y="455.7"/>
<use href="#hb" x="1001.45" y="471.45"/>
<use href="#hb" x="1017.2" y="298.2"/>
<use href="#hb" x="1017.2" y="313.95"/>
<use href="#hb" x="1017.2" y="329.7"/>
<use href="#hb" x="1017.2" y="345.45"/>
<use href="#hb" x="1017.2" y="361.2"/>
<use href="#hb" x="1017.2" y="408.45"/>
<use href="#hb" x="1017.2" y="424.2"/>
<use href="#hb" x="1017.2" y="439.95"/>
<use href="#hb" x="1017.2" y="455.7"/>
<use href="#hb" x="1017.2" y="471.45"/>
<use href="#hb" x="1032.95" y="298.2"/>
<use href="#hb" x="1032.95" y="313.95"/>
<use href="#hb" x="1032.95" y="329.7"/>
<use href="#hb" x="1032.95" y="345.45"/>
<use href="#hb" x="1032.95" y="361.2"/>
<use href="#hb" x="1032.95" y="408.45"/>
<use href="#hb" x="1032.95" y="424.2"/>
<use href="#hb" x="1032.95" y="439.95"/>
<use href="#hb" x="1032.95" y="455.7"/>
<use href="#hb" x="1032.95" y="471.45"/>
<use href="#hb" x="1048.7" y="298.2"/>
<use href="#hb" x="1048.7" y="313.95"/>
<use href="#hb" x="1048.7" y="329.7"/>
<use href="#hb" x="1048.7" y="345.45"/>
<use href="#hb" x="1048.7" y="361.2"/>
<use href="#hb" x="1048.7" y="408.45"/>
<use href="#hb" x="1048.7" y="424.2"/>
<use href="#hb" x="1048.7" y="439.95"/>
<use href="#hb" x="1048.7" y="455.7"/>
<use href="#hb" x="1048.7" y="471.45"/>
<use href="#hb" x="1064.45" y="298.2"/>
<use href="#hb" x="1064.45" y="313.95"/>
<use href="#hb" x="1064.45" y="329.7"/>
<use href="#hb" x="1064.45" y="345.45"/>
<use href="#hb" x="1064.45" y="361.2"/>
<use href="#hb" x="1064.45" y="408.45"/>
<use href="#hb" x="1064.45" y="424.2"/>
<use href="#hb" x="1064.45" y="439.95"/>
<use href="#hb" x="1064.45" y="455.7"/>
<use href="#hb" x="1064.45" y="471.45"/>
<use href="#hb" x="1080.2" y="298.2"/>
<use href="#hb" x="1080.2" y="313.95"/>
<use href="#hb" x="1080.2" y="329.7"/>
<use href="#hb" x="1080.2" y="345.45"/>
<use href="#hb" x="1080.2" y="361.2"/>
<use href="#hb" x="1080.2" y="408.45"/>
<use href="#hb" x="1080.2" y="424.2"/>
<use href="#hb" x="1080.2" y="439.95"/>
<use href="#hb" x="1080.2" y="455.7"/>
<use href="#hb" x="1080.2" y="471.45"/>
<use href="#hb" x="1095.95" y="298.2"/>
<use href="#hb" x="1095.95" y="313.95"/>
<use href="#hb" x="1095.95" y="329.7"/>
<use href="#hb" x="1095.95" y="345.45"/>
<use href="#hb" x="1095.95" y="361.2"/>
<use href="#hb" x="1095.95" y="408.45"/>
<use href="#hb" x="1095.95" y="424.2"/>
<use href="#hb" x="1095.95" y="439.95"/>
<use href="#hb" x="1095.95" y="455.7"/>
<use href="#hb" x="1095.95" y="471.45"/>
<use href="#hb" x="1111.7" y="298.2"/>
<use href="#hb" x="1111.7" y="313.95"/>
<use href="#hb" x="1111.7" y="329.7"/>
<use href="#hb" x="1111.7" y="345.45"/>
<use href="#hb" x="1111.7" y="361.2"/>
<use href="#hb" x="1111.7" y="408.45"/>
<use href="#hb" x="1111.7" y="424.2"/>
<use href="#hb" x="1111.7" y="439.95"/>
<use href="#hb" x="1111.7" y="455.7"/>
<use href="#hb" x="1111.7" y="471.45"/>
<use href="#hb" x="1127.45" y="298.2"/>
<use href="#hb" x="1127.45" y="313.95"/>
<use href="#hb" x="1127.45" y="329.7"/>
<use href="#hb" x="1127.45" y="345.45"/>
<use href="#hb" x="1127.45" y="361.2"/>
<use href="#hb" x="1127.45" y="408.45"/>
<use href="#hb" x="1127.45" y="424.2"/>
<use href="#hb" x="1127.45" y="439.95"/>
<use href="#hb" x="1127.45" y="455.7"/>
<use href="#hb" x="1127.45" y="471.45"/>
<use href="#hb" x="1143.2" y="298.2"/>
<use href="#hb" x="1143.2" y="313.95"/>
<use href="#hb" x="1143.2" y="329.7"/>
<use href="#hb" x="1143.2" y="345.45"/>
<use href="#hb" x="1143.2" y="361.2"/>
<use href="#hb" x="1143.2" y="408.45"/>
<use href="#hb" x="1143.2" y="424.2"/>
<use href="#hb" x="1143.2" y="439.95"/>
<use href="#hb" x="1143.2" y="455.7"/>
<use href="#hb" x="1143.2" y="471.45"/>
<use href="#hb" x="1158.95" y="298.2"/>
<use href="#hb" x="1158.95" y="313.95"/>
<use href="#hb" x="1158.95" y="329.7"/>
<use href="#hb" x="1158.95" y="345.45"/>
<use href="#hb" x="1158.95" y="361.2"/>
<use href="#hb" x="1158.95" y="408.45"/>
<use href="#hb" x="1158.95" y="424.2"/>
<use href="#hb" x="1158.95" y="439.95"/>
<use href="#hb" x="1158.95" y="455.7"/>
<use href="#hb" x="1158.95" y="471.45"/>
<use href="#hb" x="1174.7" y="298.2"/>
<use href="#hb" x="1174.7" y="313.95"/>
<use href="#hb" x="1174.7" y="329.7"/>
<use href="#hb" x="1174.7" y="345.45"/>
<use href="#hb" x="1174.7" y="361.2"/>
<use href="#hb" x="1174.7" y="408.45"/>
<use href="#hb" x="1174.7" y="424.2"/>
<use href="#hb" x="1174.7" y="439.95"/>
<use href="#hb" x="1174.7" y="455.7"/>
<use href="#hb" x="1174.7" y="471.45"/>
<use href="#hb" x="1190.45" y="298.2"/>
<use href="#hb" x="1190.45" y="313.95"/>
<use href="#hb" x="1190.45" y="329.7"/>
<use href="#hb" x="1190.45" y="345.45"/>
<use href="#hb" x="1190.45" y="361.2"/>
<use href="#hb" x="1190.45" y="408.45"/>
<use href="#hb" x="1190.45" y="424.2"/>
<use href="#hb" x="1190.45" y="439.95"/>
<use href="#hb" x="1190.45" y="455.7"/>
<use href="#hb" x="1190.45" y="471.45"/>
<use href="#hb" x="1206.2" y="298.2"/>
<use href="#hb" x="1206.2" y="313.95"/>
<use href="#hb" x="1206.2" y="329.7"/>
<use href="#hb" x="1206.2" y="345.45"/>
<use href="#hb" x="1206.2" y="361.2"/>
<use href="#hb" x="1206.2" y="408.45"/>
<use href="#hb" x="1206.2" y="424.2"/>
<use href="#hb" x="1206.2" y="439.95"/>
<use href="#hb" x="1206.2" y="455.7"/>
<use href="#hb" x="1206.2" y="471.45"/>
<use href="#hb" x="1221.95" y="298.2"/>
<use href="#hb" x="1221.95" y="313.95"/>
<use href="#hb" x="1221.95" y="329.7"/>
<use href="#hb" x="1221.95" y="345.45"/>
<use href="#hb" x="1221.95" y="361.2"/>
<use href="#hb" x="1221.95" y="408.45"/>
<use href="#hb" x="1221.95" y="424.2"/>
<use href="#hb" x="1221.95" y="439.95"/>
<use href="#hb" x="1221.95" y="455.7"/>
<use href="#hb" x="1221.95" y="471.45"/>
<use href="#hb" x="1237.7" y="298.2"/>
<use href="#hb" x="1237.7" y="313.95"/>
<use href="#hb" x="1237.7" y="329.7"/>
<use href="#hb" x="1237.7" y="345.45"/>
<use href="#hb" x="1237.7" y="361.2"/>
<use href="#hb" x="1237.7" y="408.45"/>
<use href="#hb" x="1237.7" y="424.2"/>
<use href="#hb" x="1237.7" y="439.95"/>
<use href="#hb" x="1237.7" y="455.7"/>
<use href="#hb" x="1237.7" y="471.45"/>
<use href="#hb" x="1253.45" y="298.2"/>
<use href="#hb" x="1253.45" y="313.95"/>
<use href="#hb" x="1253.45" y="329.7"/>
<use href="#hb" x="1253.45" y="345.45"/>
<use href="#hb" x="1253.45" y="361.2"/>
<use href="#hb" x="1253.45" y="408.45"/>
<use href="#hb" x="1253.45" y="424.2"/>
<use href="#hb" x="1253.45" y="439.95"/>
<use href="#hb" x="1253.45" y="455.7"/>
<use href="#hb" x="1253.45" y="471.45"/>
<use href="#hb" x="1269.2" y="298.2"/>
<use href="#hb" x="1269.2" y="313.95"/>
<use href="#hb" x="1269.2" y="329.7"/>
<use href="#hb" x="1269.2" y="345.45"/>
<use href="#hb" x="1269.2" y="361.2"/>
<use href="#hb" x="1269.2" y="408.45"/>
<use href="#hb" x="1269.2" y="424.2"/>
<use href="#hb" x="1269.2" y="439.95"/>
<use href="#hb" x="1269.2" y="455.7"/>
<use href="#hb" x="1269.2" y="471.45"/>
<use href="#hb" x="1284.95" y="298.2"/>
<use href="#hb" x="1284.95" y="313.95"/>
<use href="#hb" x="1284.95" y="329.7"/>
<use href="#hb" x="1284.95" y="345.45"/>
<use href="#hb" x="1284.95" y="361.2"/>
<use href="#hb" x="1284.95" y="408.45"/>
<use href="#hb" x="1284.95" y="424.2"/>
<use href="#hb" x="1284.95" y="439.95"/>
<use href="#hb" x="1284.95" y="455.7"/>
<use href="#hb" x="1284.95" y="471.45"/>
<use href="#hb" x="1300.7" y="298.2"/>
<use href="#hb" x="1300.7" y="313.95"/>
<use href="#hb" x="1300.7" y="329.7"/>
<use href="#hb" x="1300.7" y="345.45"/>
<use href="#hb" x="1300.7" y="361.2"/>
<use href="#hb" x="1300.7" y="408.45"/>
<use href="#hb" x="1300.7" y="424.2"/>
<use href="#hb" x="1300.7" y="439.95"/>
<use href="#hb" x="1300.7" y="455.7"/>
<use href="#hb" x="1300.7" y="471.45"/>
<use href="#hb" x="1316.45" y="298.2"/>
<use href="#hb" x="1316.45" y="313.95"/>
<use href="#hb" x="1316.45" y="329.7"/>
<use href="#hb" x="1316.45" y="345.45"/>
<use href="#hb" x="1316.45" y="361.2"/>
<use href="#hb" x="1316.45" y="408.45"/>
<use href="#hb" x="1316.45" y="424.2"/>
<use href="#hb" x="1316.45" y="439.95"/>
<use href="#hb" x="1316.45" y="455.7"/>
<use href="#hb" x="1316.45" y="471.45"/>
<use href="#hb" x="1332.2" y="298.2"/>
<use href="#hb" x="1332.2" y="313.95"/>
<use href="#hb" x="1332.2" y="329.7"/>
<use href="#hb" x="1332.2" y="345.45"/>
<use href="#hb" x="1332.2" y="361.2"/>
<use href="#hb" x="1332.2" y="408.45"/>
<use href="#hb" x="1332.2" y="424.2"/>
<use href="#hb" x="1332.2" y="439.95"/>
<use href="#hb" x="1332.2" y="455.7"/>
<use href="#hb" x="1332.2" y="471.45"/>
<use href="#hb" x="1347.95" y="298.2"/>
<use href="#hb" x="1347.95" y="313.95"/>
<use href="#hb" x="1347.95" y="329.7"/>
<use href="#hb" x="1347.95" y="345.45"/>
<use href="#hb" x="1347.95" y="361.2"/>
<use href="#hb" x="1347.95" y="408.45"/>
<use href="#hb" x="1347.95" y="424.2"/>
<use href="#hb" x="1347.95" y="439.95"/>
<use href="#hb" x="1347.95" y="455.7"/>
<use href="#hb" x="1347.95" y="471.45"/>
<use href="#hb" x="1363.7" y="298.2"/>
<use href="#hb" x="1363.7" y="313.95"/>
<use href="#hb" x="1363.7" y="329.7"/>
<use href="#hb" x="1363.7" y="345.45"/>
<use href="#hb" x="1363.7" y="361.2"/>
<use href="#hb" x="1363.7" y="408.45"/>
<use href="#hb" x="1363.7" y="424.2"/>
<use href="#hb" x="1363.7" y="439.95"/>
<use href="#hb" x="1363.7" y="455.7"/>
<use href="#hb" x="1363.7" y="471.45"/>
<use href="#hb" x="1379.45" y="298.2"/>
<use href="#hb" x="1379.45" y="313.95"/>
<use href="#hb" x="1379.45" y="329.7"/>
<use href="#hb" x="1379.45" y="345.45"/>
<use href="#hb" x="1379.45" y="361.2"/>
<use href="#hb" x="1379.45" y="408.45"/>
<use href="#hb" x="1379.45" y="424.2"/>
<use href="#hb" x="1379.45" y="439.95"/>
<use href="#hb" x="1379.45" y="455.7"/>
<use href="#hb" x="1379.45" y="471.45"/>
<use href="#hb" x="1395.2" y="298.2"/>
<use href="#hb" x="1395.2" y="313.95"/>
<use href="#hb" x="1395.2" y="329.7"/>
<use href="#hb" x="1395.2" y="345.45"/>
<use href="#hb" x="1395.2" y="361.2"/>
<use href="#hb" x="1395.2" y="408.45"/>
<use href="#hb" x="1395.2" y="424.2"/>
<use href="#hb" x="1395.2" y="439.95"/>
<use href="#hb" x="1395.2" y="455.7"/>
<use href="#hb" x="1395.2" y="471.45"/>
<use href="#hb" x="1410.95" y="298.2"/>
<use href="#hb" x="1410.95" y="313.95"/>
<use href="#hb" x="1410.95" y="329.7"/>
<use href="#hb" x="1410.95" y="345.45"/>
<use href="#hb" x="1410.95" y="361.2"/>
<use href="#hb" x="1410.95" y="408.45"/>
<use href="#hb" x="1410.95" y="424.2"/>
<use href="#hb" x="1410.95" y="439.95"/>
<use href="#hb" x="1410.95" y="455.7"/>
<use href="#hb" x="1410.95" y="471.45"/>
<use href="#hb" x="1426.7" y="298.2"/>
<use href="#hb" x="1426.7" y="313.95"/>
<use href="#hb" x="1426.7" y="329.7"/>
<use href="#hb" x="1426.7" y="345.45"/>
<use href="#hb" x="1426.7" y="361.2"/>
<use href="#hb" x="1426.7" y="408.45"/>
<use href="#hb" x="1426.7" y="424.2"/>
<use href="#hb" x="1426.7" y="439.95"/>
<use href="#hb" x="1426.7" y="455.7"/>
<use href="#hb" x="1426.7" y="471.45"/>
<use href="#hb" x="1442.45" y="298.2"/>
<use href="#hb" x="1442.45" y="313.95"/>
<use href="#hb" x="1442.45" y="329.7"/>
<use href="#hb" x="1442.45" y="345.45"/>
<use href="#hb" x="1442.45" y="361.2"/>
<use href="#hb" x="1442.45" y="408.45"/>
<use href="#hb" x="1442.45" y="424.2"/>
<use href="#hb" x="1442.45" y="439.95"/>
<use href="#hb" x="1442.45" y="455.7"/>
<use href="#hb" x="1442.45" y="471.45"/>
<use href="#hb" x="1458.2" y="298.2"/>
<use href="#hb" x="1458.2" y="313.95"/>
<use href="#hb" x="1458.2" y="329.7"/>
<use href="#hb" x="1458.2" y="345.45"/>
<use href="#hb" x="1458.2" y="361.2"/>
<use href="#hb" x="1458.2" y="408.45"/>
<use href="#hb" x="1458.2" y="424.2"/>
<use href="#hb" x="1458.2" y="439.95"/>
<use href="#hb" x="1458.2" y="455.7"/>
<use href="#hb" x="1458.2" y="471.45"/>
<use href="#hb" x="1473.95" y="298.2"/>
<use href="#hb" x="1473.95" y="313.95"/>
<use href="#hb" x="1473.95" y="329.7"/>
<use href="#hb" x="1473.95" y="345.45"/>
<use href="#hb" x="1473.95" y="361.2"/>
<use href="#hb" x="1473.95" y="408.45"/>
<use href="#hb" x="1473.95" y="424.2"/>
<use href="#hb" x="1473.95" y="439.95"/>
<use href="#hb" x="1473.95" y="455.7"/>
<use href="#hb" x="1473.95" y="471.45"/>
<use href="#hb" x="1489.7" y="298.2"/>
<use href="#hb" x="1489.7" y="313.95"/>
<use href="#hb" x="1489.7" y="329.7"/>
<use href="#hb" x="1489.7" y="345.45"/>
<use href="#hb" x="1489.7" y="361.2"/>
<use href="#hb" x="1489.7" y="408.45"/>
<use href="#hb" x="1489.7" y="424.2"/>
<use href="#hb" x="1489.7" y="439.95"/>
<use href="#hb" x="1489.7" y="455.7"/>
<use href="#hb" x="1489.7" y="471.45"/>
<g font-family='"Liberation Sans", sans-serif' font-size="9.5" fill="#ababab"><text transform="translate(513.2 285.3) rotate(-90)" x="0" y="3.3">1</text>
<text transform="translate(513.2 495.5) rotate(-90)" x="0" y="3.3">1</text>
<text transform="translate(576.2 285.3) rotate(-90)" x="0" y="3.3">5</text>
<text transform="translate(576.2 495.5) rotate(-90)" x="0" y="3.3">5</text>
<text transform="translate(654.95 285.3) rotate(-90)" x="0" y="3.3">10</text>
<text transform="translate(654.95 495.5) rotate(-90)" x="0" y="3.3">10</text>
<text transform="translate(733.7 285.3) rotate(-90)" x="0" y="3.3">15</text>
<text transform="translate(733.7 495.5) rotate(-90)" x="0" y="3.3">15</text>
<text transform="translate(812.45 285.3) rotate(-90)" x="0" y="3.3">20</text>
<text transform="translate(812.45 495.5) rotate(-90)" x="0" y="3.3">20</text>
<text transform="translate(891.2 285.3) rotate(-90)" x="0" y="3.3">25</text>
<text transform="translate(891.2 495.5) rotate(-90)" x="0" y="3.3">25</text>
<text transform="translate(969.95 285.3) rotate(-90)" x="0" y="3.3">30</text>
<text transform="translate(969.95 495.5) rotate(-90)" x="0" y="3.3">30</text>
<text transform="translate(1048.7 285.3) rotate(-90)" x="0" y="3.3">35</text>
<text transform="translate(1048.7 495.5) rotate(-90)" x="0" y="3.3">35</text>
<text transform="translate(1127.45 285.3) rotate(-90)" x="0" y="3.3">40</text>
<text transform="translate(1127.45 495.5) rotate(-90)" x="0" y="3.3">40</text>
<text transform="translate(1206.2 285.3) rotate(-90)" x="0" y="3.3">45</text>
<text transform="translate(1206.2 495.5) rotate(-90)" x="0" y="3.3">45</text>
<text transform="translate(1284.95 285.3) rotate(-90)" x="0" y="3.3">50</text>
<text transform="translate(1284.95 495.5) rotate(-90)" x="0" y="3.3">50</text>
<text transform="translate(1363.7 285.3) rotate(-90)" x="0" y="3.3">55</text>
<text transform="translate(1363.7 495.5) rotate(-90)" x="0" y="3.3">55</text>
<text transform="translate(1442.45 285.3) rotate(-90)" x="0" y="3.3">60</text>
<text transform="translate(1442.45 495.5) rotate(-90)" x="0" y="3.3">60</text>
<text transform="translate(498.5 298.2) rotate(-90)" text-anchor="middle" x="0" y="3.3">J</text>
<text transform="translate(1505.5 298.2) rotate(-90)" text-anchor="middle" x="0" y="3.3">J</text>
<text transform="translate(498.5 313.95) rotate(-90)" text-anchor="middle" x="0" y="3.3">I</text>
<text transform="translate(1505.5 313.95) rotate(-90)" text-anchor="middle" x="0" y="3.3">I</text>
<text transform="translate(498.5 329.7) rotate(-90)" text-anchor="middle" x="0" y="3.3">H</text>
<text transform="translate(1505.5 329.7) rotate(-90)" text-anchor="middle" x="0" y="3.3">H</text>
<text transform="translate(498.5 345.45) rotate(-90)" text-anchor="middle" x="0" y="3.3">G</text>
<text transform="translate(1505.5 345.45) rotate(-90)" text-anchor="middle" x="0" y="3.3">G</text>
<text transform="translate(498.5 361.2) rotate(-90)" text-anchor="middle" x="0" y="3.3">F</text>
<text transform="translate(1505.5 361.2) rotate(-90)" text-anchor="middle" x="0" y="3.3">F</text>
<text transform="translate(498.5 408.45) rotate(-90)" text-anchor="middle" x="0" y="3.3">E</text>
<text transform="translate(1505.5 408.45) rotate(-90)" text-anchor="middle" x="0" y="3.3">E</text>
<text transform="translate(498.5 424.2) rotate(-90)" text-anchor="middle" x="0" y="3.3">D</text>
<text transform="translate(1505.5 424.2) rotate(-90)" text-anchor="middle" x="0" y="3.3">D</text>
<text transform="translate(498.5 439.95) rotate(-90)" text-anchor="middle" x="0" y="3.3">C</text>
<text transform="translate(1505.5 439.95) rotate(-90)" text-anchor="middle" x="0" y="3.3">C</text>
<text transform="translate(498.5 455.7) rotate(-90)" text-anchor="middle" x="0" y="3.3">B</text>
<text transform="translate(1505.5 455.7) rotate(-90)" text-anchor="middle" x="0" y="3.3">B</text>
<text transform="translate(498.5 471.45) rotate(-90)" text-anchor="middle" x="0" y="3.3">A</text>
<text transform="translate(1505.5 471.45) rotate(-90)" text-anchor="middle" x="0" y="3.3">A</text></g>
<circle cx="528.95" cy="424.20" r="4.6" fill="#90e890"/>
<circle cx="528.95" cy="361.20" r="4.6" fill="#90e890"/>
<rect x="526.85" y="362" width="4.2" height="61" fill="#8a8a8a"/>
<path d="M528.95 418 V425.20" stroke="#6fa56f" stroke-width="4.2" stroke-linecap="round"/>
<path d="M528.95 360.20 V367" stroke="#6fa56f" stroke-width="4.2" stroke-linecap="round"/>
<path d="M521.60 374 Q521.60 372 523.45 372 H534.45 Q536.30 372 536.30 374 V382 Q536.30 384 534.75 386 V398 Q534.75 400 536.30 402 V410 Q536.30 412.1 534.45 412.1 H523.45 Q521.60 412.1 521.60 410 V402 Q521.60 400 523.15 398 V386 Q523.15 384 521.60 382 Z" fill="#e4bb7c"/>
<rect x="523.15" y="373" width="3.2" height="38" fill="rgba(120,80,30,0.35)"/>
<rect x="521.60" y="377.9" width="14.7" height="3.9" fill="#cc0a0a"/>
<rect x="523.15" y="386" width="11.6" height="3.9" fill="#cc0a0a"/>
<rect x="523.15" y="394.3" width="11.6" height="3.7" fill="#8a3a04"/>
<rect x="521.60" y="406.9" width="14.7" height="2.1" fill="#6f6a30"/>
<rect x="530.95" y="406.9" width="4" height="2.1" fill="#e8e060"/>
<circle cx="560.45" cy="424.20" r="4.6" fill="#90e890"/>
<circle cx="560.45" cy="361.20" r="4.6" fill="#90e890"/>
<rect x="558.35" y="362" width="4.2" height="61" fill="#8a8a8a"/>
<path d="M560.45 418 V425.20" stroke="#6fa56f" stroke-width="4.2" stroke-linecap="round"/>
<path d="M553.10 374 Q553.10 372 554.95 372 H565.95 Q567.80 372 567.80 374 V382 Q567.80 384 566.25 386 V398 Q566.25 400 567.80 402 V410 Q567.80 412.1 565.95 412.1 H554.95 Q553.10 412.1 553.10 410 V402 Q553.10 400 554.65 398 V386 Q554.65 384 553.10 382 Z" fill="#e4bb7c"/>
<rect x="554.65" y="373" width="3.2" height="38" fill="rgba(120,80,30,0.35)"/>
<rect x="553.10" y="377.9" width="14.7" height="3.9" fill="#cc0a0a"/>
<rect x="554.65" y="386" width="11.6" height="3.9" fill="#cc0a0a"/>
<rect x="554.65" y="394.3" width="11.6" height="3.7" fill="#8a3a04"/>
<rect x="553.10" y="406.9" width="14.7" height="2.1" fill="#6f6a30"/>
<rect x="562.45" y="406.9" width="4" height="2.1" fill="#e8e060"/>
<circle cx="576.20" cy="424.20" r="4.6" fill="#90e890"/>
<circle cx="576.20" cy="361.20" r="4.6" fill="#90e890"/>
<rect x="574.10" y="362" width="4.2" height="61" fill="#8a8a8a"/>
<path d="M576.20 418 V425.20" stroke="#6fa56f" stroke-width="4.2" stroke-linecap="round"/>
<path d="M568.85 374 Q568.85 372 570.70 372 H581.70 Q583.55 372 583.55 374 V382 Q583.55 384 582.00 386 V398 Q582.00 400 583.55 402 V410 Q583.55 412.1 581.70 412.1 H570.70 Q568.85 412.1 568.85 410 V402 Q568.85 400 570.40 398 V386 Q570.40 384 568.85 382 Z" fill="#e4bb7c"/>
<rect x="570.40" y="373" width="3.2" height="38" fill="rgba(120,80,30,0.35)"/>
<rect x="568.85" y="377.9" width="14.7" height="3.9" fill="#cc0a0a"/>
<rect x="570.40" y="386" width="11.6" height="3.9" fill="#cc0a0a"/>
<rect x="570.40" y="394.3" width="11.6" height="3.7" fill="#8a3a04"/>
<rect x="568.85" y="406.9" width="14.7" height="2.1" fill="#6f6a30"/>
<rect x="578.20" y="406.9" width="4" height="2.1" fill="#e8e060"/>
<path d="M541.58 228 C541.58 238 528.83 242 528.83 252 V297.9" fill="none" stroke="#8f8f8f" stroke-width="4.3"/>
<path d="M528.83 288 V297.9" stroke="#6e9e6e" stroke-width="4.3" stroke-linecap="round"/>
<path d="M548.58 228 C548.58 238 544.68 242 544.68 252 V297.9" fill="none" stroke="#8f8f8f" stroke-width="4.3"/>
<path d="M544.68 288 V297.9" stroke="#6e9e6e" stroke-width="4.3" stroke-linecap="round"/>
<path d="M556.28 228 C556.28 238 560.48 242 560.48 252 V297.9" fill="none" stroke="#8f8f8f" stroke-width="4.3"/>
<path d="M560.48 288 V297.9" stroke="#6e9e6e" stroke-width="4.3" stroke-linecap="round"/>
<path d="M563.88 228 C563.88 238 576.33 242 576.33 252 V297.9" fill="none" stroke="#8f8f8f" stroke-width="4.3"/>
<path d="M576.33 288 V297.9" stroke="#6e9e6e" stroke-width="4.3" stroke-linecap="round"/>
<path d="M537.58 219 V196.3 A15 15 0 0 1 567.58 196.3 V219 Z" fill="rgba(240,240,240,0.62)" stroke="rgba(215,215,215,0.8)" stroke-width="0.8"/>
<path d="M541.58 214 V197 A11 11 0 0 1 548.58 190" fill="none" stroke="rgba(255,255,255,0.75)" stroke-width="1.6"/>
<path d="M542.18 200.1 H548.08 L552.58 203.2 L557.08 200.1 H563.48 V216.7 H558.78 V207.3 H546.38 V216.7 H542.18 Z" fill="#9a9a9a"/>
<path d="M555.78 207.6 L563.78 199.6" stroke="#f2f2f2" stroke-width="1.3"/>
<rect x="546.38" y="216.7" width="4.2" height="10" fill="#c4c4c4"/>
<rect x="553.98" y="216.7" width="4.6" height="10" fill="#c4c4c4"/>
<ellipse cx="553.68" cy="219.6" rx="17.2" ry="10.3" fill="rgba(238,238,238,0.15)"/>
<path d="M536.48 219.6 A17.2 10.3 0 0 0 570.88 219.6 A17.2 10.3 0 0 0 564.68 211.5" fill="none" stroke="#a2a2a2" stroke-width="1.3"/>
<path d="M538.18 218 A15.5 8.8 0 0 0 569.18 218" fill="none" stroke="rgba(252,252,252,0.95)" stroke-width="1.4"/>
<path d="M793.58 228 C793.58 238 780.83 242 780.83 252 V297.9" fill="none" stroke="#8f8f8f" stroke-width="4.3"/>
<path d="M780.83 288 V297.9" stroke="#6e9e6e" stroke-width="4.3" stroke-linecap="round"/>
<path d="M800.58 228 C800.58 238 796.68 242 796.68 252 V297.9" fill="none" stroke="#8f8f8f" stroke-width="4.3"/>
<path d="M796.68 288 V297.9" stroke="#6e9e6e" stroke-width="4.3" stroke-linecap="round"/>
<path d="M808.28 228 C808.28 238 812.48 242 812.48 252 V297.9" fill="none" stroke="#8f8f8f" stroke-width="4.3"/>
<path d="M812.48 288 V297.9" stroke="#6e9e6e" stroke-width="4.3" stroke-linecap="round"/>
<path d="M815.88 228 C815.88 238 828.33 242 828.33 252 V297.9" fill="none" stroke="#8f8f8f" stroke-width="4.3"/>
<path d="M828.33 288 V297.9" stroke="#6e9e6e" stroke-width="4.3" stroke-linecap="round"/>
<path d="M789.58 219 V196.3 A15 15 0 0 1 819.58 196.3 V219 Z" fill="rgba(240,240,240,0.62)" stroke="rgba(215,215,215,0.8)" stroke-width="0.8"/>
<path d="M793.58 214 V197 A11 11 0 0 1 800.58 190" fill="none" stroke="rgba(255,255,255,0.75)" stroke-width="1.6"/>
<path d="M794.18 200.1 H800.08 L804.58 203.2 L809.08 200.1 H815.48 V216.7 H810.78 V207.3 H798.38 V216.7 H794.18 Z" fill="#9a9a9a"/>
<path d="M807.78 207.6 L815.78 199.6" stroke="#f2f2f2" stroke-width="1.3"/>
<rect x="798.38" y="216.7" width="4.2" height="10" fill="#c4c4c4"/>
<rect x="805.98" y="216.7" width="4.6" height="10" fill="#c4c4c4"/>
<ellipse cx="805.68" cy="219.6" rx="17.2" ry="10.3" fill="rgba(238,238,238,0.15)"/>
<path d="M788.48 219.6 A17.2 10.3 0 0 0 822.88 219.6 A17.2 10.3 0 0 0 816.68 211.5" fill="none" stroke="#a2a2a2" stroke-width="1.3"/>
<path d="M790.18 218 A15.5 8.8 0 0 0 821.18 218" fill="none" stroke="rgba(252,252,252,0.95)" stroke-width="1.4"/>
<path d="M528.95 313.95 L780.95 313.95" fill="none" stroke="#1597cf" stroke-width="7" stroke-linejoin="round" stroke-linecap="round"/><path d="M528.95 313.95 L780.95 313.95" fill="none" stroke="#2ff5c0" stroke-width="3.8" stroke-linejoin="round" stroke-linecap="round"/>
<path d="M560.45 329.70 L812.45 329.70" fill="none" stroke="#0c9e1c" stroke-width="7" stroke-linejoin="round" stroke-linecap="round"/><path d="M560.45 329.70 L812.45 329.70" fill="none" stroke="#22cc34" stroke-width="3.8" stroke-linejoin="round" stroke-linecap="round"/>
<path d="M576.20 345.45 L828.20 345.45" fill="none" stroke="#1250a8" stroke-width="7" stroke-linejoin="round" stroke-linecap="round"/><path d="M576.20 345.45 L828.20 345.45" fill="none" stroke="#3f8ad8" stroke-width="3.8" stroke-linejoin="round" stroke-linecap="round"/>
<path d="M544.70 361.20 L796.70 361.20 L796.70 534.45" fill="none" stroke="#000" stroke-width="7" stroke-linejoin="round" stroke-linecap="round"/><path d="M544.70 361.20 L796.70 361.20 L796.70 534.45" fill="none" stroke="#444" stroke-width="3.8" stroke-linejoin="round" stroke-linecap="round"/>
<path d="M376.20 264.00 L376.20 439.20 L474.00 439.20" fill="none" stroke="#33f8c8" stroke-width="4" stroke-linejoin="miter" stroke-linecap="round"/>
<path d="M279.60 263.00 L279.60 453.90 L474.00 453.90" fill="none" stroke="#22cc33" stroke-width="4" stroke-linejoin="miter" stroke-linecap="round"/>
<path d="M263.40 267.00 L263.40 471.90 L474.00 471.90" fill="none" stroke="#4a90dc" stroke-width="4" stroke-linejoin="miter" stroke-linecap="round"/>
<path d="M269.20 501.50 L269.20 487.10 L474.00 487.10" fill="none" stroke="#d81010" stroke-width="3.8" stroke-linejoin="miter" stroke-linecap="round"/>
<path d="M285.90 499.50 L285.90 598.90 L466.00 598.90" fill="none" stroke="#000" stroke-width="4" stroke-linejoin="miter" stroke-linecap="round"/>
<rect x="473.2" y="436" width="56" height="7.6" fill="#1597cf"/><rect x="473.2" y="437.8" width="56" height="3.9" fill="#2ff5c0"/>
<path d="M476.00 439.95 L528.95 439.95" fill="none" stroke="#1597cf" stroke-width="7" stroke-linejoin="round" stroke-linecap="round"/><path d="M476.00 439.95 L528.95 439.95" fill="none" stroke="#2ff5c0" stroke-width="3.8" stroke-linejoin="round" stroke-linecap="round"/>
<rect x="473.2" y="452" width="8" height="7" fill="#0c9e1c"/>
<path d="M476.00 455.70 L560.45 455.70" fill="none" stroke="#0c9e1c" stroke-width="7" stroke-linejoin="round" stroke-linecap="round"/><path d="M476.00 455.70 L560.45 455.70" fill="none" stroke="#22cc34" stroke-width="3.8" stroke-linejoin="round" stroke-linecap="round"/>
<rect x="473.2" y="468" width="8" height="7" fill="#1250a8"/>
<path d="M476.00 471.45 L576.20 471.45" fill="none" stroke="#1250a8" stroke-width="7" stroke-linejoin="round" stroke-linecap="round"/><path d="M476.00 471.45 L576.20 471.45" fill="none" stroke="#3f8ad8" stroke-width="3.8" stroke-linejoin="round" stroke-linecap="round"/>
<rect x="473.2" y="484" width="8" height="7" fill="#8c0606"/>
<path d="M476.00 487.50 L544.70 487.50 L544.70 518.70" fill="none" stroke="#8c0606" stroke-width="7" stroke-linejoin="round" stroke-linecap="round"/><path d="M476.00 487.50 L544.70 487.50 L544.70 518.70" fill="none" stroke="#cf1515" stroke-width="3.8" stroke-linejoin="round" stroke-linecap="round"/>
<rect x="462" y="593.8" width="8" height="7" fill="#000"/>
<path d="M465.00 597.30 L544.70 597.30 L544.70 534.45" fill="none" stroke="#000" stroke-width="7" stroke-linejoin="round" stroke-linecap="round"/><path d="M465.00 597.30 L544.70 597.30 L544.70 534.45" fill="none" stroke="#444" stroke-width="3.8" stroke-linejoin="round" stroke-linecap="round"/>
<circle cx="528.95" cy="313.95" r="4.3" fill="rgba(60,230,80,0.35)" stroke="rgba(90,240,90,0.85)" stroke-width="1.1"/>
<circle cx="780.95" cy="313.95" r="4.3" fill="rgba(60,230,80,0.35)" stroke="rgba(90,240,90,0.85)" stroke-width="1.1"/>
<circle cx="560.45" cy="329.70" r="4.3" fill="rgba(60,230,80,0.35)" stroke="rgba(90,240,90,0.85)" stroke-width="1.1"/>
<circle cx="812.45" cy="329.70" r="4.3" fill="rgba(60,230,80,0.35)" stroke="rgba(90,240,90,0.85)" stroke-width="1.1"/>
<circle cx="576.20" cy="345.45" r="4.3" fill="rgba(60,230,80,0.35)" stroke="rgba(90,240,90,0.85)" stroke-width="1.1"/>
<circle cx="828.20" cy="345.45" r="4.3" fill="rgba(60,230,80,0.35)" stroke="rgba(90,240,90,0.85)" stroke-width="1.1"/>
<circle cx="544.70" cy="361.20" r="4.3" fill="rgba(60,230,80,0.35)" stroke="rgba(90,240,90,0.85)" stroke-width="1.1"/>
<circle cx="796.70" cy="361.20" r="4.3" fill="rgba(60,230,80,0.35)" stroke="rgba(90,240,90,0.85)" stroke-width="1.1"/>
<circle cx="796.70" cy="534.45" r="4.3" fill="rgba(60,230,80,0.35)" stroke="rgba(90,240,90,0.85)" stroke-width="1.1"/>
<circle cx="528.95" cy="439.95" r="4.3" fill="rgba(60,230,80,0.35)" stroke="rgba(90,240,90,0.85)" stroke-width="1.1"/>
<circle cx="560.45" cy="455.70" r="4.3" fill="rgba(60,230,80,0.35)" stroke="rgba(90,240,90,0.85)" stroke-width="1.1"/>
<circle cx="576.20" cy="471.45" r="4.3" fill="rgba(60,230,80,0.35)" stroke="rgba(90,240,90,0.85)" stroke-width="1.1"/>
<circle cx="544.70" cy="518.70" r="4.3" fill="rgba(60,230,80,0.35)" stroke="rgba(90,240,90,0.85)" stroke-width="1.1"/>
<circle cx="544.70" cy="534.45" r="4.3" fill="rgba(60,230,80,0.35)" stroke="rgba(90,240,90,0.85)" stroke-width="1.1"/>
<circle cx="544.70" cy="487.5" r="3.6" fill="#6a0000"/>
<circle cx="796.70" cy="360.9" r="3.6" fill="#000"/>
<circle cx="544.70" cy="597.3" r="3.8" fill="#000"/>
<rect x="1031.6" y="71.4" width="213.4" height="100.2" rx="14" ry="14" fill="none" stroke="#000" stroke-width="4.6"/>
<text x="1131" y="100.8" text-anchor="middle" font-family='"Liberation Sans", sans-serif' font-size="19.5" fill="#000">ZH03A</text>
<path d="M1064.40 157.3 V186" stroke="#000" stroke-width="4.4" stroke-linecap="round"/>
<text x="1064.00" y="139.3" text-anchor="middle" font-family='"Liberation Sans", sans-serif' font-size="11" fill="#000">1</text>
<path d="M1080.30 157.3 V186" stroke="#000" stroke-width="4.4" stroke-linecap="round"/>
<text x="1077.50" y="139.3" text-anchor="middle" font-family='"Liberation Sans", sans-serif' font-size="11" fill="#000">2</text>
<path d="M1096.60 157.3 V186" stroke="#000" stroke-width="4.4" stroke-linecap="round"/>
<text x="1093.40" y="139.3" text-anchor="middle" font-family='"Liberation Sans", sans-serif' font-size="11" fill="#000">3</text>
<path d="M1111.50 157.3 V186" stroke="#000" stroke-width="4.4" stroke-linecap="round"/>
<text x="1112.30" y="139.3" text-anchor="middle" font-family='"Liberation Sans", sans-serif' font-size="11" fill="#000">4</text>
<path d="M1127.40 157.3 V186" stroke="#000" stroke-width="4.4" stroke-linecap="round"/>
<text x="1128.20" y="139.3" text-anchor="middle" font-family='"Liberation Sans", sans-serif' font-size="11" fill="#000">5</text>
<path d="M1142.70 157.3 V186" stroke="#000" stroke-width="4.4" stroke-linecap="round"/>
<text x="1144.50" y="139.3" text-anchor="middle" font-family='"Liberation Sans", sans-serif' font-size="11" fill="#000">6</text>
<path d="M1159.10 157.3 V186" stroke="#000" stroke-width="4.4" stroke-linecap="round"/>
<text x="1159.80" y="139.3" text-anchor="middle" font-family='"Liberation Sans", sans-serif' font-size="11" fill="#000">7</text>
<path d="M1175.40 157.3 V186" stroke="#000" stroke-width="4.4" stroke-linecap="round"/>
<text x="1176.10" y="139.3" text-anchor="middle" font-family='"Liberation Sans", sans-serif' font-size="11" fill="#000">8</text>
<path d="M1064.60 170.00 L1064.60 519.00" fill="none" stroke="#e8141c" stroke-width="4.8" stroke-linejoin="miter" stroke-linecap="round"/>
<path d="M1081.50 170.00 L1081.50 538.00" fill="none" stroke="#000" stroke-width="4.8" stroke-linejoin="miter" stroke-linecap="round"/>
<path d="M1112.60 172.00 L1112.60 220.50 L1301.50 220.50 L1301.50 29.60 L481.00 29.60" fill="none" stroke="#fff000" stroke-width="4.6" stroke-linejoin="miter" stroke-linecap="round"/>
<path d="M483.00 28.90 L408.00 28.90 L408.00 268.00" fill="none" stroke="#fff000" stroke-width="4.1" stroke-linejoin="miter" stroke-linecap="round"/>
<path d="M1127.70 171.00 L1127.70 203.50 L1285.50 203.50 L1285.50 45.60 L843.00 45.60" fill="none" stroke="#ff7d22" stroke-width="4.6" stroke-linejoin="miter" stroke-linecap="round"/>
<path d="M845.00 44.50 L424.00 44.50 L424.00 266.00" fill="none" stroke="#ff7d22" stroke-width="4.3" stroke-linejoin="miter" stroke-linecap="round"/>
<path d="M1299.6 31.5 Q1301.5 33.5 1303.6 31" fill="none" stroke="#8a3ab8" stroke-width="1.4"/>
</svg></body></html>
